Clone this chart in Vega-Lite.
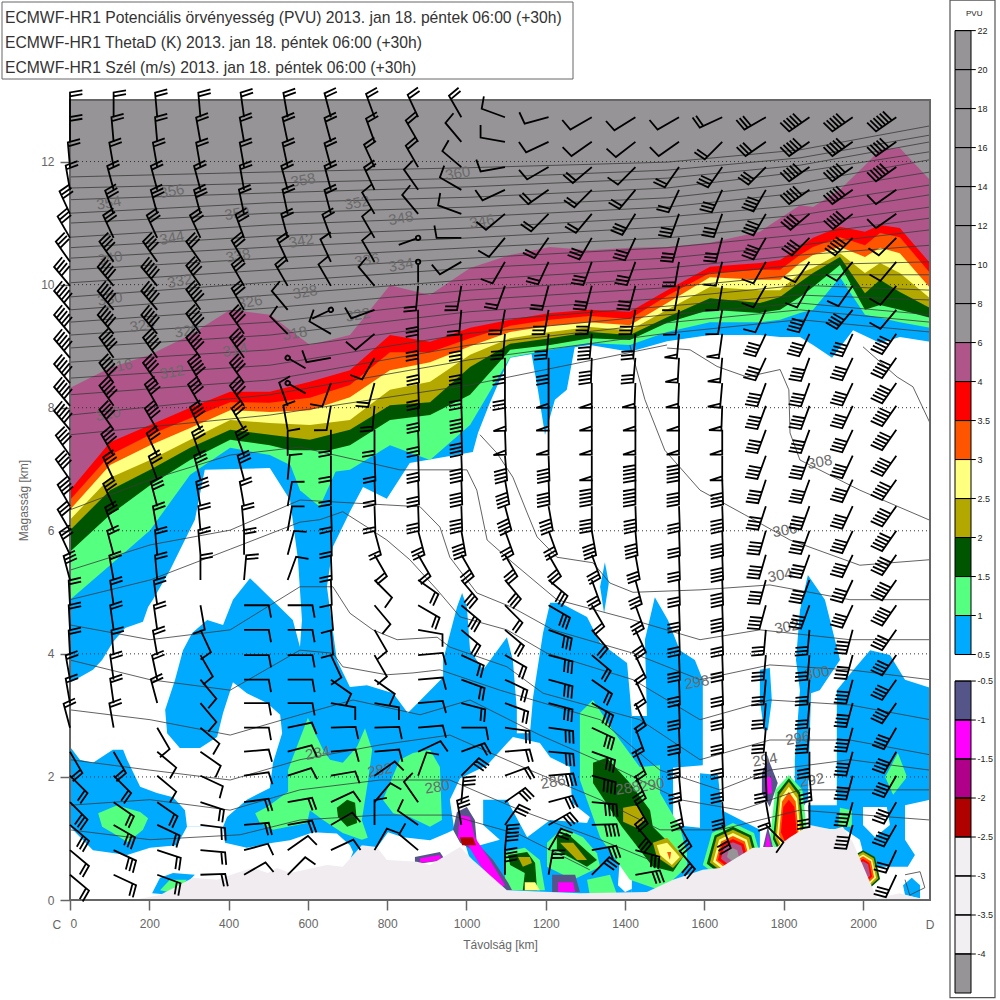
{"$schema":"https://vega.github.io/schema/vega-lite/v6.json","width":1000,"height":1000,"padding":0,"autosize":{"type":"none"},"background":"white","config":{"view":{"stroke":null},"font":"Liberation Sans"},
"datasets":{
"polys":[{"p":1,"b":"bl"},{"p":2,"b":"w"},{"p":3,"b":"w"},{"p":4,"b":"w"},{"p":5,"b":"w"},{"p":6,"b":"w"},{"p":7,"b":"bl"},{"p":8,"b":"w"},{"p":9,"b":"bl"},{"p":10,"b":"bl"},{"p":11,"b":"bl"},{"p":12,"b":"bl"},{"p":13,"b":"bl"},{"p":14,"b":"w"},{"p":15,"b":"bl"},{"p":16,"b":"bl"},{"p":17,"b":"bl"},{"p":18,"b":"bl"},{"p":19,"b":"lg"},{"p":20,"b":"dg"},{"p":21,"b":"ol"},{"p":22,"b":"yl"},{"p":23,"b":"or"},{"p":24,"b":"rd"},{"p":25,"b":"pu"},{"p":26,"b":"g"},{"p":27,"b":"lg"},{"p":28,"b":"lg"},{"p":29,"b":"lg"},{"p":30,"b":"lg"},{"p":31,"b":"dg"},{"p":32,"b":"lg"},{"p":33,"b":"dg"},{"p":34,"b":"ol"},{"p":35,"b":"ol"},{"p":36,"b":"yl"},{"p":37,"b":"or"},{"p":38,"b":"lg"},{"p":39,"b":"dg"},{"p":40,"b":"ol"},{"p":41,"b":"lg"},{"p":42,"b":"dg"},{"p":43,"b":"ol"},{"p":44,"b":"yl"},{"p":45,"b":"lg"},{"p":46,"b":"lg"},{"p":47,"b":"lg"},{"p":48,"b":"lg"},{"p":49,"b":"dg"},{"p":50,"b":"ol"},{"p":51,"b":"yl"},{"p":52,"b":"or"},{"p":53,"b":"rd"},{"p":54,"b":"pu"},{"p":55,"b":"g"},{"p":56,"b":"lg"},{"p":57,"b":"dg"},{"p":58,"b":"ol"},{"p":59,"b":"yl"},{"p":60,"b":"or"},{"p":61,"b":"rd"},{"p":62,"b":"dg"},{"p":63,"b":"ol"},{"p":64,"b":"yl"},{"p":65,"b":"or"},{"p":66,"b":"rd"},{"p":67,"b":"pu"},{"p":68,"b":"n1"},{"p":69,"b":"n2"},{"p":70,"b":"n1"},{"p":71,"b":"n2"},{"p":72,"b":"n1"},{"p":73,"b":"n2"},{"p":74,"b":"n4"},{"p":75,"b":"n1"},{"p":76,"b":"n2"},{"p":77,"b":"n1"},{"p":78,"b":"n2"},{"p":79,"b":"t"},{"p":82,"b":"lg"},{"p":83,"b":"dg"}],
"pts":[{"p":1,"x":0,"y":0},{"p":1,"x":2169,"y":0},{"p":1,"x":2169,"y":13},{"p":1,"x":0,"y":13},
{"p":2,"x":340,"y":6.99},{"p":2,"x":504,"y":7.02},{"p":2,"x":555,"y":6.5},{"p":2,"x":575,"y":5.53},{"p":2,"x":585,"y":4.55},{"p":2,"x":580,"y":4.11},{"p":2,"x":562,"y":4.55},{"p":2,"x":484,"y":5.04},{"p":2,"x":454,"y":5.23},{"p":2,"x":411,"y":4.88},{"p":2,"x":386,"y":4.47},{"p":2,"x":346,"y":4.55},{"p":2,"x":308,"y":4.34},{"p":2,"x":285,"y":4.06},{"p":2,"x":265,"y":3.58},{"p":2,"x":240,"y":3.09},{"p":2,"x":245,"y":2.71},{"p":2,"x":277,"y":2.47},{"p":2,"x":328,"y":2.47},{"p":2,"x":371,"y":2.65},{"p":2,"x":386,"y":3.04},{"p":2,"x":411,"y":3.54},{"p":2,"x":446,"y":3.36},{"p":2,"x":497,"y":3.2},{"p":2,"x":530,"y":3.01},{"p":2,"x":535,"y":2.71},{"p":2,"x":512,"y":2.23},{"p":2,"x":504,"y":1.82},{"p":2,"x":446,"y":1.63},{"p":2,"x":396,"y":1.35},{"p":2,"x":386,"y":1.19},{"p":2,"x":295,"y":1.19},{"p":2,"x":290,"y":1.46},{"p":2,"x":260,"y":1.67},{"p":2,"x":219,"y":1.74},{"p":2,"x":177,"y":1.84},{"p":2,"x":144,"y":2.28},{"p":2,"x":134,"y":2.44},{"p":2,"x":108,"y":2.44},{"p":2,"x":58,"y":2.23},{"p":2,"x":25,"y":2.28},{"p":2,"x":0,"y":2.49},{"p":2,"x":0,"y":3.53},{"p":2,"x":58,"y":3.74},{"p":2,"x":81,"y":3.9},{"p":2,"x":108,"y":4.19},{"p":2,"x":139,"y":4.42},{"p":2,"x":184,"y":4.52},{"p":2,"x":197,"y":4.76},{"p":2,"x":209,"y":4.88},{"p":2,"x":252,"y":5.36},{"p":2,"x":315,"y":6.18},
{"p":3,"x":0,"y":1.19},{"p":3,"x":58,"y":0.81},{"p":3,"x":144,"y":0.73},{"p":3,"x":202,"y":0.85},{"p":3,"x":270,"y":0.89},{"p":3,"x":295,"y":1.19},{"p":3,"x":386,"y":1.19},{"p":3,"x":391,"y":0.93},{"p":3,"x":446,"y":0.85},{"p":3,"x":512,"y":0.93},{"p":3,"x":555,"y":0.97},{"p":3,"x":613,"y":1.1},{"p":3,"x":673,"y":1.08},{"p":3,"x":706,"y":0.89},{"p":3,"x":714,"y":0.78},{"p":3,"x":699,"y":0.54},{"p":3,"x":691,"y":0},{"p":3,"x":0,"y":0},
{"p":4,"x":663,"y":5.74},{"p":4,"x":706,"y":6.31},{"p":4,"x":739,"y":6.71},{"p":4,"x":799,"y":6.52},{"p":4,"x":857,"y":7.1},{"p":4,"x":1016,"y":7.28},{"p":4,"x":1029,"y":7.59},{"p":4,"x":1059,"y":8.08},{"p":4,"x":1084,"y":8.45},{"p":4,"x":1110,"y":8.81},{"p":4,"x":1211,"y":8.92},{"p":4,"x":1311,"y":9.02},{"p":4,"x":1412,"y":8.91},{"p":4,"x":1506,"y":9.08},{"p":4,"x":1614,"y":9.18},{"p":4,"x":1740,"y":9.18},{"p":4,"x":1791,"y":9.15},{"p":4,"x":1841,"y":9.15},{"p":4,"x":1874,"y":9.02},{"p":4,"x":1922,"y":8.81},{"p":4,"x":1975,"y":9.26},{"p":4,"x":2043,"y":9.05},{"p":4,"x":2093,"y":9.15},{"p":4,"x":2169,"y":9.07},{"p":4,"x":2169,"y":0},{"p":4,"x":1417,"y":0},{"p":4,"x":1417,"y":2.99},{"p":4,"x":1405,"y":3.85},{"p":4,"x":1337,"y":4.18},{"p":4,"x":1304,"y":4.6},{"p":4,"x":1236,"y":4.83},{"p":4,"x":1211,"y":4.83},{"p":4,"x":1193,"y":4.34},{"p":4,"x":1168,"y":3.3},{"p":4,"x":1160,"y":2.71},{"p":4,"x":1127,"y":2.71},{"p":4,"x":1127,"y":3.09},{"p":4,"x":1117,"y":3.9},{"p":4,"x":1102,"y":4.27},{"p":4,"x":1042,"y":3.74},{"p":4,"x":1009,"y":4.06},{"p":4,"x":1001,"y":4.76},{"p":4,"x":989,"y":4.99},{"p":4,"x":976,"y":4.76},{"p":4,"x":941,"y":3.9},{"p":4,"x":941,"y":3.62},{"p":4,"x":852,"y":3.04},{"p":4,"x":815,"y":3.36},{"p":4,"x":749,"y":3.49},{"p":4,"x":706,"y":3.46},{"p":4,"x":673,"y":3.9},{"p":4,"x":648,"y":5.09},
{"p":5,"x":774,"y":0.85},{"p":5,"x":802,"y":1.1},{"p":5,"x":840,"y":1.02},{"p":5,"x":908,"y":0.97},{"p":5,"x":951,"y":1.09},{"p":5,"x":984,"y":1.19},{"p":5,"x":1009,"y":0.65},{"p":5,"x":774,"y":0.33},
{"p":6,"x":1117,"y":2.65},{"p":6,"x":1185,"y":2.55},{"p":6,"x":1211,"y":2.32},{"p":6,"x":1261,"y":2.16},{"p":6,"x":1266,"y":1.58},{"p":6,"x":1311,"y":1.35},{"p":6,"x":1304,"y":1.25},{"p":6,"x":1211,"y":1.3},{"p":6,"x":1153,"y":1.02},{"p":6,"x":1102,"y":1.63},{"p":6,"x":1042,"y":1.63},{"p":6,"x":1042,"y":1.22},{"p":6,"x":1084,"y":0.98},{"p":6,"x":1034,"y":0.89},{"p":6,"x":971,"y":1.06},{"p":6,"x":958,"y":1.63},{"p":6,"x":984,"y":1.98},{"p":6,"x":1052,"y":2.19},
{"p":7,"x":207,"y":0.11},{"p":7,"x":227,"y":0.36},{"p":7,"x":260,"y":0.44},{"p":7,"x":315,"y":0.41},{"p":7,"x":295,"y":0.28},{"p":7,"x":260,"y":0.08},
{"p":82,"x":227,"y":0.16},{"p":82,"x":252,"y":0.33},{"p":82,"x":295,"y":0.33},{"p":82,"x":265,"y":0.11},
{"p":83,"x":240,"y":0.08},{"p":83,"x":265,"y":0.21},{"p":83,"x":277,"y":0.24},{"p":83,"x":272,"y":0.11},
{"p":8,"x":1387,"y":0.7},{"p":8,"x":1417,"y":0.65},{"p":8,"x":1437,"y":0.24},{"p":8,"x":1400,"y":0.13},{"p":8,"x":1382,"y":0.24},
{"p":9,"x":1417,"y":2.99},{"p":9,"x":1455,"y":2.99},{"p":9,"x":1450,"y":4.23},{"p":9,"x":1475,"y":4.92},{"p":9,"x":1508,"y":4.55},{"p":9,"x":1538,"y":4.06},{"p":9,"x":1576,"y":3.9},{"p":9,"x":1596,"y":3.58},{"p":9,"x":1596,"y":2.19},{"p":9,"x":1521,"y":2.15},{"p":9,"x":1521,"y":1.22},{"p":9,"x":1596,"y":1.17},{"p":9,"x":1604,"y":0},{"p":9,"x":1417,"y":0},
{"p":10,"x":1589,"y":2.06},{"p":10,"x":1634,"y":2.03},{"p":10,"x":1644,"y":1.46},{"p":10,"x":1740,"y":1.14},{"p":10,"x":1740,"y":0.49},{"p":10,"x":1589,"y":0},
{"p":11,"x":1740,"y":3.74},{"p":11,"x":1765,"y":3.77},{"p":11,"x":1770,"y":3.25},{"p":11,"x":1760,"y":2.76},{"p":11,"x":1750,"y":2.76},{"p":11,"x":1740,"y":3.25},
{"p":12,"x":1861,"y":5.28},{"p":12,"x":1904,"y":4.88},{"p":12,"x":1942,"y":3.9},{"p":12,"x":1891,"y":3.41},{"p":12,"x":1869,"y":3.36},{"p":12,"x":1861,"y":1.63},{"p":12,"x":1828,"y":1.3},{"p":12,"x":1828,"y":2.28},{"p":12,"x":1841,"y":3.41},{"p":12,"x":1831,"y":3.9},{"p":12,"x":1841,"y":4.71},
{"p":13,"x":1934,"y":3.41},{"p":13,"x":1972,"y":3.71},{"p":13,"x":2018,"y":4.06},{"p":13,"x":2068,"y":3.98},{"p":13,"x":2106,"y":3.58},{"p":13,"x":2169,"y":3.45},{"p":13,"x":2169,"y":1.63},{"p":13,"x":2106,"y":1.54},{"p":13,"x":2106,"y":0.98},{"p":13,"x":2131,"y":0.73},{"p":13,"x":2113,"y":0.54},{"p":13,"x":2030,"y":0.54},{"p":13,"x":2018,"y":0.33},{"p":13,"x":1992,"y":0.98},{"p":13,"x":1955,"y":1.14},{"p":13,"x":1934,"y":1.41},
{"p":14,"x":2000,"y":1.51},{"p":14,"x":2060,"y":1.51},{"p":14,"x":2068,"y":1.22},{"p":14,"x":2030,"y":1.02},{"p":14,"x":2000,"y":1.22},
{"p":15,"x":2101,"y":0.24},{"p":15,"x":2123,"y":0.36},{"p":15,"x":2144,"y":0.24},{"p":15,"x":2144,"y":0.03},{"p":15,"x":2106,"y":0.08},
{"p":16,"x":1861,"y":1.54},{"p":16,"x":1942,"y":1.54},{"p":16,"x":1955,"y":1.14},{"p":16,"x":1866,"y":1.17},
{"p":17,"x":1160,"y":9.02},{"p":17,"x":1274,"y":9.02},{"p":17,"x":1253,"y":8.29},{"p":17,"x":1223,"y":8.13},{"p":17,"x":1198,"y":7.56},{"p":17,"x":1180,"y":8.29},
{"p":18,"x":1349,"y":5.49},{"p":18,"x":1359,"y":5.15},{"p":18,"x":1347,"y":4.66},{"p":18,"x":1337,"y":5.09},
{"p":19,"x":0,"y":4.88},{"p":19,"x":101,"y":5.44},{"p":19,"x":202,"y":6.01},{"p":19,"x":303,"y":6.91},{"p":19,"x":404,"y":7.35},{"p":19,"x":504,"y":7.23},{"p":19,"x":605,"y":6.91},{"p":19,"x":706,"y":6.99},{"p":19,"x":807,"y":7.39},{"p":19,"x":908,"y":7.15},{"p":19,"x":1009,"y":7.72},{"p":19,"x":1110,"y":8.82},{"p":19,"x":1211,"y":8.94},{"p":19,"x":1311,"y":9.05},{"p":19,"x":1412,"y":9.02},{"p":19,"x":1506,"y":9.23},{"p":19,"x":1614,"y":9.39},{"p":19,"x":1740,"y":9.39},{"p":19,"x":1791,"y":9.43},{"p":19,"x":1841,"y":9.54},{"p":19,"x":1874,"y":9.59},{"p":19,"x":1942,"y":10.12},{"p":19,"x":2005,"y":9.51},{"p":19,"x":2043,"y":9.46},{"p":19,"x":2093,"y":9.39},{"p":19,"x":2169,"y":9.3},{"p":19,"x":2169,"y":13},{"p":19,"x":0,"y":13},
{"p":20,"x":0,"y":5.66},{"p":20,"x":101,"y":6.26},{"p":20,"x":202,"y":6.74},{"p":20,"x":303,"y":7.15},{"p":20,"x":404,"y":7.48},{"p":20,"x":504,"y":7.39},{"p":20,"x":605,"y":7.23},{"p":20,"x":706,"y":7.39},{"p":20,"x":807,"y":7.8},{"p":20,"x":908,"y":7.88},{"p":20,"x":1009,"y":8.21},{"p":20,"x":1110,"y":8.94},{"p":20,"x":1211,"y":9.02},{"p":20,"x":1311,"y":9.13},{"p":20,"x":1412,"y":9.1},{"p":20,"x":1506,"y":9.38},{"p":20,"x":1614,"y":9.59},{"p":20,"x":1740,"y":9.54},{"p":20,"x":1791,"y":9.59},{"p":20,"x":1841,"y":9.8},{"p":20,"x":1874,"y":9.96},{"p":20,"x":1942,"y":10.32},{"p":20,"x":2005,"y":9.59},{"p":20,"x":2043,"y":9.67},{"p":20,"x":2093,"y":9.59},{"p":20,"x":2169,"y":9.46},{"p":20,"x":2169,"y":13},{"p":20,"x":0,"y":13},
{"p":21,"x":0,"y":6.01},{"p":21,"x":101,"y":6.66},{"p":21,"x":202,"y":6.99},{"p":21,"x":303,"y":7.35},{"p":21,"x":404,"y":7.64},{"p":21,"x":504,"y":7.56},{"p":21,"x":605,"y":7.48},{"p":21,"x":706,"y":7.64},{"p":21,"x":807,"y":8.04},{"p":21,"x":908,"y":8.09},{"p":21,"x":1009,"y":8.66},{"p":21,"x":1110,"y":9.04},{"p":21,"x":1211,"y":9.13},{"p":21,"x":1311,"y":9.23},{"p":21,"x":1412,"y":9.18},{"p":21,"x":1506,"y":9.47},{"p":21,"x":1614,"y":9.78},{"p":21,"x":1740,"y":9.7},{"p":21,"x":1791,"y":9.8},{"p":21,"x":1841,"y":10.04},{"p":21,"x":1874,"y":10.19},{"p":21,"x":1942,"y":10.45},{"p":21,"x":2005,"y":9.86},{"p":21,"x":2043,"y":10.08},{"p":21,"x":2093,"y":9.88},{"p":21,"x":2169,"y":9.62},{"p":21,"x":2169,"y":13},{"p":21,"x":0,"y":13},
{"p":22,"x":0,"y":6.18},{"p":22,"x":101,"y":6.86},{"p":22,"x":202,"y":7.15},{"p":22,"x":303,"y":7.48},{"p":22,"x":404,"y":7.8},{"p":22,"x":504,"y":7.75},{"p":22,"x":605,"y":7.72},{"p":22,"x":706,"y":7.8},{"p":22,"x":807,"y":8.29},{"p":22,"x":908,"y":8.42},{"p":22,"x":1009,"y":8.86},{"p":22,"x":1110,"y":9.13},{"p":22,"x":1211,"y":9.23},{"p":22,"x":1311,"y":9.31},{"p":22,"x":1412,"y":9.26},{"p":22,"x":1506,"y":9.59},{"p":22,"x":1614,"y":9.96},{"p":22,"x":1740,"y":9.91},{"p":22,"x":1791,"y":9.91},{"p":22,"x":1841,"y":10.19},{"p":22,"x":1874,"y":10.27},{"p":22,"x":1942,"y":10.51},{"p":22,"x":2005,"y":10.19},{"p":22,"x":2043,"y":10.35},{"p":22,"x":2093,"y":10.19},{"p":22,"x":2169,"y":9.78},{"p":22,"x":2169,"y":13},{"p":22,"x":0,"y":13},
{"p":23,"x":0,"y":6.34},{"p":23,"x":101,"y":7.07},{"p":23,"x":202,"y":7.39},{"p":23,"x":303,"y":7.67},{"p":23,"x":404,"y":7.96},{"p":23,"x":504,"y":7.93},{"p":23,"x":605,"y":7.96},{"p":23,"x":706,"y":8.17},{"p":23,"x":807,"y":8.61},{"p":23,"x":908,"y":8.74},{"p":23,"x":1009,"y":9},{"p":23,"x":1110,"y":9.23},{"p":23,"x":1211,"y":9.33},{"p":23,"x":1311,"y":9.39},{"p":23,"x":1412,"y":9.34},{"p":23,"x":1506,"y":9.7},{"p":23,"x":1614,"y":10.12},{"p":23,"x":1740,"y":10.08},{"p":23,"x":1791,"y":10.08},{"p":23,"x":1841,"y":10.35},{"p":23,"x":1874,"y":10.48},{"p":23,"x":1942,"y":10.61},{"p":23,"x":2005,"y":10.45},{"p":23,"x":2043,"y":10.6},{"p":23,"x":2093,"y":10.51},{"p":23,"x":2169,"y":9.95},{"p":23,"x":2169,"y":13},{"p":23,"x":0,"y":13},
{"p":24,"x":0,"y":6.5},{"p":24,"x":101,"y":7.23},{"p":24,"x":202,"y":7.56},{"p":24,"x":303,"y":7.83},{"p":24,"x":404,"y":8.09},{"p":24,"x":504,"y":8.08},{"p":24,"x":605,"y":8.16},{"p":24,"x":706,"y":8.37},{"p":24,"x":807,"y":8.9},{"p":24,"x":908,"y":8.9},{"p":24,"x":1009,"y":9.13},{"p":24,"x":1110,"y":9.33},{"p":24,"x":1211,"y":9.43},{"p":24,"x":1311,"y":9.49},{"p":24,"x":1412,"y":9.44},{"p":24,"x":1506,"y":9.82},{"p":24,"x":1614,"y":10.19},{"p":24,"x":1740,"y":10.24},{"p":24,"x":1791,"y":10.24},{"p":24,"x":1841,"y":10.48},{"p":24,"x":1874,"y":10.61},{"p":24,"x":1942,"y":10.77},{"p":24,"x":2005,"y":10.64},{"p":24,"x":2043,"y":10.84},{"p":24,"x":2093,"y":10.77},{"p":24,"x":2169,"y":10.19},{"p":24,"x":2169,"y":13},{"p":24,"x":0,"y":13},
{"p":25,"x":0,"y":6.66},{"p":25,"x":101,"y":7.44},{"p":25,"x":202,"y":7.72},{"p":25,"x":303,"y":8},{"p":25,"x":404,"y":8.26},{"p":25,"x":504,"y":8.26},{"p":25,"x":605,"y":8.42},{"p":25,"x":706,"y":8.61},{"p":25,"x":807,"y":9.18},{"p":25,"x":908,"y":9.07},{"p":25,"x":1009,"y":9.3},{"p":25,"x":1110,"y":9.43},{"p":25,"x":1211,"y":9.54},{"p":25,"x":1311,"y":9.59},{"p":25,"x":1412,"y":9.56},{"p":25,"x":1506,"y":9.91},{"p":25,"x":1614,"y":10.29},{"p":25,"x":1740,"y":10.35},{"p":25,"x":1791,"y":10.4},{"p":25,"x":1841,"y":10.61},{"p":25,"x":1874,"y":10.76},{"p":25,"x":1942,"y":10.94},{"p":25,"x":2005,"y":10.86},{"p":25,"x":2043,"y":10.97},{"p":25,"x":2093,"y":10.92},{"p":25,"x":2169,"y":10.35},{"p":25,"x":2169,"y":13},{"p":25,"x":0,"y":13},
{"p":26,"x":0,"y":8.32},{"p":26,"x":101,"y":8.65},{"p":26,"x":202,"y":8.86},{"p":26,"x":303,"y":9.18},{"p":26,"x":404,"y":9.59},{"p":26,"x":504,"y":9.51},{"p":26,"x":605,"y":9.02},{"p":26,"x":706,"y":9.18},{"p":26,"x":807,"y":9.99},{"p":26,"x":908,"y":9.83},{"p":26,"x":1009,"y":10.27},{"p":26,"x":1110,"y":10.48},{"p":26,"x":1211,"y":10.61},{"p":26,"x":1311,"y":10.56},{"p":26,"x":1412,"y":10.6},{"p":26,"x":1506,"y":10.61},{"p":26,"x":1614,"y":10.68},{"p":26,"x":1740,"y":10.86},{"p":26,"x":1791,"y":11.08},{"p":26,"x":1841,"y":11.29},{"p":26,"x":1874,"y":11.26},{"p":26,"x":1942,"y":11.54},{"p":26,"x":2005,"y":11.94},{"p":26,"x":2043,"y":12.19},{"p":26,"x":2093,"y":12.22},{"p":26,"x":2169,"y":11.7},{"p":26,"x":2169,"y":13},{"p":26,"x":0,"y":13},
{"p":27,"x":542,"y":7.31},{"p":27,"x":694,"y":7.31},{"p":27,"x":630,"y":6.39},{"p":27,"x":580,"y":6.66},
{"p":28,"x":71,"y":1.41},{"p":28,"x":119,"y":1.54},{"p":28,"x":177,"y":1.43},{"p":28,"x":197,"y":1.33},{"p":28,"x":184,"y":1.14},{"p":28,"x":146,"y":0.94},{"p":28,"x":108,"y":1.09},{"p":28,"x":81,"y":1.19},
{"p":29,"x":467,"y":1.41},{"p":29,"x":497,"y":1.51},{"p":29,"x":550,"y":1.76},{"p":29,"x":550,"y":2.11},{"p":29,"x":572,"y":2.49},{"p":29,"x":600,"y":2.96},{"p":29,"x":638,"y":2.44},{"p":29,"x":656,"y":2.28},{"p":29,"x":688,"y":2.23},{"p":29,"x":724,"y":2.49},{"p":29,"x":744,"y":2.79},{"p":29,"x":762,"y":2.44},{"p":29,"x":752,"y":1.95},{"p":29,"x":736,"y":1.3},{"p":29,"x":751,"y":1.01},{"p":29,"x":736,"y":0.98},{"p":29,"x":688,"y":1.09},{"p":29,"x":638,"y":1.3},{"p":29,"x":605,"y":1.46},{"p":29,"x":598,"y":1.25},{"p":29,"x":512,"y":1.14},{"p":29,"x":479,"y":1.25},
{"p":30,"x":807,"y":1.9},{"p":30,"x":832,"y":2.28},{"p":30,"x":865,"y":2.39},{"p":30,"x":908,"y":2.44},{"p":30,"x":933,"y":2.16},{"p":30,"x":938,"y":1.3},{"p":30,"x":908,"y":1.19},{"p":30,"x":857,"y":1.35},{"p":30,"x":815,"y":1.41},{"p":30,"x":789,"y":1.63},
{"p":31,"x":673,"y":1.5},{"p":31,"x":699,"y":1.63},{"p":31,"x":719,"y":1.58},{"p":31,"x":724,"y":1.25},{"p":31,"x":699,"y":1.19},{"p":31,"x":676,"y":1.35},
{"p":32,"x":1286,"y":3.04},{"p":32,"x":1319,"y":3.25},{"p":32,"x":1369,"y":2.76},{"p":32,"x":1437,"y":2.16},{"p":32,"x":1488,"y":2.19},{"p":32,"x":1488,"y":1.74},{"p":32,"x":1538,"y":1.19},{"p":32,"x":1556,"y":0.76},{"p":32,"x":1556,"y":0.54},{"p":32,"x":1521,"y":0.33},{"p":32,"x":1538,"y":0.05},{"p":32,"x":1412,"y":0.33},{"p":32,"x":1337,"y":1.02},{"p":32,"x":1286,"y":1.95},
{"p":33,"x":1319,"y":2.23},{"p":33,"x":1354,"y":2.31},{"p":33,"x":1412,"y":1.9},{"p":33,"x":1463,"y":1.46},{"p":33,"x":1470,"y":1.19},{"p":33,"x":1546,"y":0.7},{"p":33,"x":1521,"y":0.46},{"p":33,"x":1470,"y":0.54},{"p":33,"x":1392,"y":1.19},{"p":33,"x":1319,"y":1.9},
{"p":34,"x":1395,"y":1.5},{"p":34,"x":1430,"y":1.54},{"p":34,"x":1450,"y":1.3},{"p":34,"x":1430,"y":1.17},{"p":34,"x":1395,"y":1.27},
{"p":35,"x":1470,"y":0.93},{"p":35,"x":1506,"y":1.01},{"p":35,"x":1546,"y":0.7},{"p":35,"x":1521,"y":0.52},{"p":35,"x":1480,"y":0.7},
{"p":36,"x":1480,"y":0.89},{"p":36,"x":1506,"y":0.93},{"p":36,"x":1538,"y":0.7},{"p":36,"x":1518,"y":0.57},{"p":36,"x":1488,"y":0.73},
{"p":37,"x":1506,"y":0.78},{"p":37,"x":1516,"y":0.78},{"p":37,"x":1513,"y":0.65},
{"p":38,"x":1203,"y":0.93},{"p":38,"x":1243,"y":1.17},{"p":38,"x":1294,"y":1.02},{"p":38,"x":1329,"y":0.76},{"p":38,"x":1337,"y":0.54},{"p":38,"x":1269,"y":0.33},{"p":38,"x":1203,"y":0.54},
{"p":39,"x":1228,"y":1.02},{"p":39,"x":1253,"y":1.09},{"p":39,"x":1329,"y":0.65},{"p":39,"x":1304,"y":0.54},{"p":39,"x":1228,"y":0.81},
{"p":40,"x":1236,"y":0.93},{"p":40,"x":1269,"y":0.93},{"p":40,"x":1304,"y":0.65},{"p":40,"x":1279,"y":0.65},
{"p":41,"x":1097,"y":0.78},{"p":41,"x":1147,"y":0.85},{"p":41,"x":1185,"y":0.65},{"p":41,"x":1198,"y":0.16},{"p":41,"x":1097,"y":0.16},
{"p":42,"x":1105,"y":0.73},{"p":42,"x":1153,"y":0.78},{"p":42,"x":1173,"y":0.6},{"p":42,"x":1178,"y":0.16},{"p":42,"x":1142,"y":0.16},{"p":42,"x":1147,"y":0.44},{"p":42,"x":1110,"y":0.57},
{"p":43,"x":1130,"y":0.7},{"p":43,"x":1160,"y":0.7},{"p":43,"x":1165,"y":0.6},{"p":43,"x":1142,"y":0.54},
{"p":44,"x":1147,"y":0.29},{"p":44,"x":1173,"y":0.29},{"p":44,"x":1185,"y":0.16},{"p":44,"x":1147,"y":0.16},
{"p":45,"x":1304,"y":0.33},{"p":45,"x":1362,"y":0.41},{"p":45,"x":1380,"y":0.08},{"p":45,"x":1311,"y":0.08},
{"p":46,"x":2088,"y":2.39},{"p":46,"x":2056,"y":2},{"p":46,"x":2076,"y":1.71},{"p":46,"x":2111,"y":2},
{"p":47,"x":1942,"y":1.5},{"p":47,"x":1972,"y":1.46},{"p":47,"x":1972,"y":1.19},{"p":47,"x":1937,"y":1.19},
{"p":48,"x":1596,"y":0.57},{"p":48,"x":1619,"y":1.09},{"p":48,"x":1672,"y":1.25},{"p":48,"x":1725,"y":1.09},{"p":48,"x":1748,"y":0.57},{"p":48,"x":1672,"y":0.21},
{"p":49,"x":1606,"y":0.59},{"p":49,"x":1626,"y":1.05},{"p":49,"x":1672,"y":1.19},{"p":49,"x":1718,"y":1.05},{"p":49,"x":1738,"y":0.59},{"p":49,"x":1672,"y":0.27},
{"p":50,"x":1614,"y":0.61},{"p":50,"x":1631,"y":1.02},{"p":50,"x":1672,"y":1.14},{"p":50,"x":1713,"y":1.02},{"p":50,"x":1730,"y":0.61},{"p":50,"x":1672,"y":0.32},
{"p":51,"x":1622,"y":0.62},{"p":51,"x":1637,"y":0.98},{"p":51,"x":1672,"y":1.09},{"p":51,"x":1707,"y":0.98},{"p":51,"x":1722,"y":0.62},{"p":51,"x":1672,"y":0.37},
{"p":52,"x":1629,"y":0.64},{"p":52,"x":1642,"y":0.95},{"p":52,"x":1672,"y":1.04},{"p":52,"x":1702,"y":0.95},{"p":52,"x":1715,"y":0.64},{"p":52,"x":1672,"y":0.42},
{"p":53,"x":1634,"y":0.65},{"p":53,"x":1645,"y":0.91},{"p":53,"x":1672,"y":0.99},{"p":53,"x":1699,"y":0.91},{"p":53,"x":1710,"y":0.65},{"p":53,"x":1672,"y":0.47},
{"p":54,"x":1642,"y":0.67},{"p":54,"x":1651,"y":0.88},{"p":54,"x":1672,"y":0.94},{"p":54,"x":1693,"y":0.88},{"p":54,"x":1702,"y":0.67},{"p":54,"x":1672,"y":0.52},
{"p":55,"x":1657,"y":0.7},{"p":55,"x":1661,"y":0.81},{"p":55,"x":1672,"y":0.84},{"p":55,"x":1683,"y":0.81},{"p":55,"x":1687,"y":0.7},{"p":55,"x":1672,"y":0.62},
{"p":56,"x":1765,"y":0.98},{"p":56,"x":1779,"y":1.79},{"p":56,"x":1813,"y":2.03},{"p":56,"x":1847,"y":1.79},{"p":56,"x":1861,"y":0.98},{"p":56,"x":1813,"y":0.41},
{"p":57,"x":1773,"y":0.99},{"p":57,"x":1785,"y":1.75},{"p":57,"x":1813,"y":1.98},{"p":57,"x":1841,"y":1.75},{"p":57,"x":1853,"y":0.99},{"p":57,"x":1813,"y":0.46},
{"p":58,"x":1778,"y":1.01},{"p":58,"x":1789,"y":1.71},{"p":58,"x":1813,"y":1.92},{"p":58,"x":1837,"y":1.71},{"p":58,"x":1848,"y":1.01},{"p":58,"x":1813,"y":0.52},
{"p":59,"x":1783,"y":1.03},{"p":59,"x":1792,"y":1.65},{"p":59,"x":1813,"y":1.84},{"p":59,"x":1834,"y":1.65},{"p":59,"x":1843,"y":1.03},{"p":59,"x":1813,"y":0.6},
{"p":60,"x":1788,"y":1.06},{"p":60,"x":1796,"y":1.6},{"p":60,"x":1813,"y":1.76},{"p":60,"x":1830,"y":1.6},{"p":60,"x":1838,"y":1.06},{"p":60,"x":1813,"y":0.68},
{"p":61,"x":1793,"y":1.1},{"p":61,"x":1799,"y":1.51},{"p":61,"x":1813,"y":1.63},{"p":61,"x":1827,"y":1.51},{"p":61,"x":1833,"y":1.1},{"p":61,"x":1813,"y":0.81},
{"p":62,"x":1957,"y":0.34},{"p":62,"x":1970,"y":0.7},{"p":62,"x":2000,"y":0.81},{"p":62,"x":2030,"y":0.7},{"p":62,"x":2043,"y":0.34},{"p":62,"x":2000,"y":0.09},
{"p":63,"x":1962,"y":0.35},{"p":63,"x":1973,"y":0.68},{"p":63,"x":2000,"y":0.78},{"p":63,"x":2027,"y":0.68},{"p":63,"x":2038,"y":0.35},{"p":63,"x":2000,"y":0.12},
{"p":64,"x":1967,"y":0.36},{"p":64,"x":1977,"y":0.65},{"p":64,"x":2000,"y":0.74},{"p":64,"x":2023,"y":0.65},{"p":64,"x":2033,"y":0.36},{"p":64,"x":2000,"y":0.16},
{"p":65,"x":1972,"y":0.37},{"p":65,"x":1980,"y":0.63},{"p":65,"x":2000,"y":0.71},{"p":65,"x":2020,"y":0.63},{"p":65,"x":2028,"y":0.37},{"p":65,"x":2000,"y":0.19},
{"p":66,"x":1977,"y":0.38},{"p":66,"x":1984,"y":0.6},{"p":66,"x":2000,"y":0.67},{"p":66,"x":2016,"y":0.6},{"p":66,"x":2023,"y":0.38},{"p":66,"x":2000,"y":0.23},
{"p":67,"x":1982,"y":0.4},{"p":67,"x":1987,"y":0.58},{"p":67,"x":2000,"y":0.63},{"p":67,"x":2013,"y":0.58},{"p":67,"x":2018,"y":0.4},{"p":67,"x":2000,"y":0.27},
{"p":68,"x":1760,"y":2.31},{"p":68,"x":1785,"y":1.9},{"p":68,"x":1765,"y":1.51},{"p":68,"x":1745,"y":1.74},{"p":68,"x":1745,"y":2.06},
{"p":69,"x":1755,"y":2},{"p":69,"x":1768,"y":2},{"p":69,"x":1770,"y":1.74},{"p":69,"x":1753,"y":1.71},
{"p":70,"x":1760,"y":1.19},{"p":70,"x":1773,"y":0.86},{"p":70,"x":1748,"y":0.86},
{"p":71,"x":1760,"y":1.1},{"p":71,"x":1768,"y":0.86},{"p":71,"x":1753,"y":0.86},
{"p":72,"x":976,"y":1.43},{"p":72,"x":1001,"y":1.51},{"p":72,"x":1021,"y":1.3},{"p":72,"x":1026,"y":0.93},{"p":72,"x":1067,"y":0.65},{"p":72,"x":1105,"y":0.28},{"p":72,"x":1115,"y":0.16},{"p":72,"x":1092,"y":0.16},{"p":72,"x":1042,"y":0.54},{"p":72,"x":1016,"y":0.81},{"p":72,"x":984,"y":0.93},{"p":72,"x":966,"y":1.14},
{"p":73,"x":984,"y":1.38},{"p":73,"x":1009,"y":1.35},{"p":73,"x":1021,"y":1.02},{"p":73,"x":1059,"y":0.65},{"p":73,"x":1097,"y":0.24},{"p":73,"x":1084,"y":0.2},{"p":73,"x":1034,"y":0.57},{"p":73,"x":1004,"y":0.89},{"p":73,"x":978,"y":1.01},
{"p":74,"x":984,"y":1.02},{"p":74,"x":1016,"y":1.02},{"p":74,"x":1024,"y":0.89},{"p":74,"x":989,"y":0.89},
{"p":75,"x":1216,"y":0.41},{"p":75,"x":1274,"y":0.41},{"p":75,"x":1286,"y":0.13},{"p":75,"x":1216,"y":0.13},
{"p":76,"x":1231,"y":0.29},{"p":76,"x":1269,"y":0.29},{"p":76,"x":1274,"y":0.13},{"p":76,"x":1231,"y":0.13},
{"p":77,"x":870,"y":0.7},{"p":77,"x":933,"y":0.78},{"p":77,"x":946,"y":0.65},{"p":77,"x":870,"y":0.58},
{"p":78,"x":883,"y":0.68},{"p":78,"x":933,"y":0.73},{"p":78,"x":938,"y":0.65},{"p":78,"x":883,"y":0.6},
{"p":79,"x":159,"y":0},{"p":79,"x":227,"y":0.08},{"p":79,"x":310,"y":0.36},{"p":79,"x":371,"y":0.33},{"p":79,"x":429,"y":0.46},{"p":79,"x":462,"y":0.52},{"p":79,"x":499,"y":0.44},{"p":79,"x":522,"y":0.52},{"p":79,"x":555,"y":0.44},{"p":79,"x":648,"y":0.57},{"p":79,"x":688,"y":0.54},{"p":79,"x":736,"y":0.89},{"p":79,"x":774,"y":0.86},{"p":79,"x":799,"y":0.65},{"p":79,"x":875,"y":0.62},{"p":79,"x":908,"y":0.57},{"p":79,"x":984,"y":0.86},{"p":79,"x":1016,"y":0.65},{"p":79,"x":1102,"y":0.16},{"p":79,"x":1286,"y":0.11},{"p":79,"x":1455,"y":0.13},{"p":79,"x":1521,"y":0.33},{"p":79,"x":1596,"y":0.49},{"p":79,"x":1639,"y":0.52},{"p":79,"x":1722,"y":0.85},{"p":79,"x":1783,"y":0.86},{"p":79,"x":1816,"y":1.02},{"p":79,"x":1866,"y":1.22},{"p":79,"x":1924,"y":1.14},{"p":79,"x":1949,"y":1.19},{"p":79,"x":1975,"y":0.93},{"p":79,"x":2035,"y":0.03},{"p":79,"x":2093,"y":0.11},{"p":79,"x":2144,"y":0.02},{"p":79,"x":2169,"y":0}],
"cont":[{"l":1,"x":0,"y":11.75},{"l":1,"x":504,"y":11.83},{"l":1,"x":1009,"y":11.9},{"l":1,"x":1506,"y":11.99},{"l":1,"x":1841,"y":12.19},{"l":1,"x":2169,"y":12.58},
{"l":2,"x":0,"y":11.57},{"l":2,"x":504,"y":11.65},{"l":2,"x":1009,"y":11.73},{"l":2,"x":1506,"y":11.86},{"l":2,"x":1841,"y":12.06},{"l":2,"x":2169,"y":12.43},
{"l":3,"x":0,"y":11.38},{"l":3,"x":504,"y":11.49},{"l":3,"x":1009,"y":11.59},{"l":3,"x":1506,"y":11.73},{"l":3,"x":1841,"y":11.94},{"l":3,"x":2169,"y":12.32},
{"l":4,"x":0,"y":11.16},{"l":4,"x":504,"y":11.33},{"l":4,"x":1009,"y":11.42},{"l":4,"x":1506,"y":11.57},{"l":4,"x":1841,"y":11.83},{"l":4,"x":2169,"y":12.16},
{"l":5,"x":0,"y":11},{"l":5,"x":504,"y":11.16},{"l":5,"x":1009,"y":11.26},{"l":5,"x":1506,"y":11.41},{"l":5,"x":1841,"y":11.65},{"l":5,"x":2169,"y":12.03},
{"l":6,"x":0,"y":10.77},{"l":6,"x":504,"y":10.97},{"l":6,"x":1009,"y":11.1},{"l":6,"x":1506,"y":11.26},{"l":6,"x":1841,"y":11.49},{"l":6,"x":2169,"y":11.83},
{"l":7,"x":0,"y":10.6},{"l":7,"x":504,"y":10.79},{"l":7,"x":1009,"y":10.92},{"l":7,"x":1506,"y":11.1},{"l":7,"x":1841,"y":11.29},{"l":7,"x":2169,"y":11.62},
{"l":8,"x":0,"y":10.43},{"l":8,"x":504,"y":10.61},{"l":8,"x":1009,"y":10.76},{"l":8,"x":1506,"y":10.94},{"l":8,"x":1841,"y":11.13},{"l":8,"x":2169,"y":11.46},
{"l":9,"x":0,"y":10.24},{"l":9,"x":504,"y":10.43},{"l":9,"x":1009,"y":10.6},{"l":9,"x":1506,"y":10.76},{"l":9,"x":1841,"y":10.97},{"l":9,"x":2169,"y":11.26},
{"l":10,"x":0,"y":10.03},{"l":10,"x":504,"y":10.24},{"l":10,"x":1009,"y":10.43},{"l":10,"x":1506,"y":10.6},{"l":10,"x":1841,"y":10.81},{"l":10,"x":2169,"y":11.08},
{"l":11,"x":0,"y":9.8},{"l":11,"x":504,"y":10.04},{"l":11,"x":1009,"y":10.27},{"l":11,"x":1506,"y":10.43},{"l":11,"x":1841,"y":10.64},{"l":11,"x":2169,"y":10.89},
{"l":12,"x":0,"y":9.59},{"l":12,"x":504,"y":9.83},{"l":12,"x":1009,"y":10.08},{"l":12,"x":1506,"y":10.27},{"l":12,"x":1841,"y":10.48},{"l":12,"x":2169,"y":10.64},
{"l":13,"x":0,"y":9.39},{"l":13,"x":504,"y":9.62},{"l":13,"x":1009,"y":9.91},{"l":13,"x":1506,"y":10.11},{"l":13,"x":1841,"y":10.32},{"l":13,"x":2169,"y":10.37},
{"l":14,"x":0,"y":9.18},{"l":14,"x":504,"y":9.39},{"l":14,"x":1009,"y":9.75},{"l":14,"x":1506,"y":9.95},{"l":14,"x":1841,"y":10.16},{"l":14,"x":2169,"y":10.16},
{"l":15,"x":0,"y":8.97},{"l":15,"x":504,"y":9.18},{"l":15,"x":1009,"y":9.56},{"l":15,"x":1506,"y":9.78},{"l":15,"x":1841,"y":9.99},{"l":15,"x":2169,"y":9.91},
{"l":16,"x":0,"y":8.74},{"l":16,"x":504,"y":8.94},{"l":16,"x":1009,"y":9.39},{"l":16,"x":1506,"y":9.65},{"l":16,"x":1841,"y":9.83},{"l":16,"x":2169,"y":9.75},
{"l":17,"x":0,"y":8.48},{"l":17,"x":504,"y":8.69},{"l":17,"x":1009,"y":9.21},{"l":17,"x":1506,"y":9.51},{"l":17,"x":1841,"y":9.7},{"l":17,"x":2169,"y":9.51},
{"l":18,"x":0,"y":8.21},{"l":18,"x":504,"y":8.45},{"l":18,"x":1009,"y":9.02},{"l":18,"x":1506,"y":9.38},{"l":18,"x":1841,"y":9.59},{"l":18,"x":2169,"y":9.39},
{"l":19,"x":0,"y":7.88},{"l":19,"x":504,"y":8.21},{"l":19,"x":1009,"y":8.78},{"l":19,"x":1506,"y":9.21},{"l":19,"x":1841,"y":9.43},{"l":19,"x":2169,"y":9.23},
{"l":20,"x":0,"y":7.56},{"l":20,"x":504,"y":7.88},{"l":20,"x":1009,"y":8.37},{"l":20,"x":1506,"y":9.02},
{"l":21,"x":1506,"y":8.97},{"l":21,"x":1564,"y":8.94},{"l":21,"x":1632,"y":8.67},{"l":21,"x":1707,"y":8.5},{"l":21,"x":1791,"y":8.62},{"l":21,"x":1813,"y":8.29},{"l":21,"x":1816,"y":7.59},{"l":21,"x":1841,"y":7.15},{"l":21,"x":1992,"y":6.66},{"l":21,"x":2169,"y":6.17},
{"l":22,"x":2000,"y":8.99},{"l":22,"x":2086,"y":8.5},{"l":22,"x":2126,"y":8.34},{"l":22,"x":2169,"y":7.75},
{"l":23,"x":1412,"y":9.02},{"l":23,"x":1450,"y":8.13},{"l":23,"x":1500,"y":7.31},{"l":23,"x":1589,"y":6.66},{"l":23,"x":1702,"y":6.26},{"l":23,"x":1816,"y":5.85},{"l":23,"x":1992,"y":5.44},{"l":23,"x":2169,"y":5.53},
{"l":24,"x":0,"y":6.34},{"l":24,"x":202,"y":6.83},{"l":24,"x":404,"y":7.23},{"l":24,"x":580,"y":7.36},{"l":24,"x":832,"y":6.99},{"l":24,"x":1001,"y":6.99},{"l":24,"x":1026,"y":6.66},{"l":24,"x":1052,"y":5.85},{"l":24,"x":1117,"y":5.48},{"l":24,"x":1228,"y":4.88},{"l":24,"x":1420,"y":4.55},{"l":24,"x":1589,"y":4.23},{"l":24,"x":1740,"y":4.39},{"l":24,"x":1967,"y":4.23},{"l":24,"x":2169,"y":4.23},
{"l":25,"x":1034,"y":7.56},{"l":25,"x":1077,"y":7.26},{"l":25,"x":1117,"y":6.87},{"l":25,"x":1153,"y":6.29},{"l":25,"x":1178,"y":5.9},{"l":25,"x":1228,"y":5.57},{"l":25,"x":1319,"y":5.48},{"l":25,"x":1362,"y":5.15},{"l":25,"x":1420,"y":5},{"l":25,"x":1589,"y":5.04},{"l":25,"x":1765,"y":5.12},{"l":25,"x":1967,"y":4.88},{"l":25,"x":2169,"y":4.88},
{"l":26,"x":0,"y":5.36},{"l":26,"x":202,"y":5.77},{"l":26,"x":404,"y":6.01},{"l":26,"x":580,"y":6.5},{"l":26,"x":799,"y":6.42},{"l":26,"x":883,"y":6.39},{"l":26,"x":933,"y":6.06},{"l":26,"x":958,"y":5.57},{"l":26,"x":1026,"y":4.99},{"l":26,"x":1117,"y":4.75},{"l":26,"x":1218,"y":4.39},{"l":26,"x":1420,"y":4.01},{"l":26,"x":1589,"y":3.58},{"l":26,"x":1765,"y":3.82},{"l":26,"x":1967,"y":3.74},{"l":26,"x":2169,"y":3.58},
{"l":27,"x":0,"y":4.88},{"l":27,"x":202,"y":5.2},{"l":27,"x":404,"y":5.7},{"l":27,"x":580,"y":6.14},{"l":27,"x":630,"y":6.18},{"l":27,"x":688,"y":6.31},{"l":27,"x":749,"y":6.06},{"l":27,"x":799,"y":5.85},{"l":27,"x":857,"y":5.53},{"l":27,"x":926,"y":5.04},{"l":27,"x":984,"y":4.6},{"l":27,"x":1102,"y":4.39},{"l":27,"x":1203,"y":4.01},{"l":27,"x":1420,"y":3.58},{"l":27,"x":1589,"y":2.93},{"l":27,"x":1765,"y":3.25},{"l":27,"x":1967,"y":3.17},{"l":27,"x":2169,"y":2.93},
{"l":28,"x":0,"y":4.47},{"l":28,"x":202,"y":4.23},{"l":28,"x":404,"y":4.39},{"l":28,"x":580,"y":5.09},{"l":28,"x":663,"y":5.09},{"l":28,"x":706,"y":4.66},{"l":28,"x":764,"y":4.39},{"l":28,"x":825,"y":4.23},{"l":28,"x":926,"y":4.27},{"l":28,"x":958,"y":4.11},{"l":28,"x":1102,"y":3.79},{"l":28,"x":1193,"y":3.36},{"l":28,"x":1437,"y":2.93},{"l":28,"x":1589,"y":2.28},{"l":28,"x":1765,"y":2.6},{"l":28,"x":1967,"y":2.6},{"l":28,"x":2169,"y":2.36},
{"l":29,"x":0,"y":3.9},{"l":29,"x":202,"y":3.58},{"l":29,"x":404,"y":3.41},{"l":29,"x":580,"y":4.06},{"l":29,"x":663,"y":4.01},{"l":29,"x":688,"y":3.79},{"l":29,"x":799,"y":3.66},{"l":29,"x":865,"y":3.69},{"l":29,"x":933,"y":3.74},{"l":29,"x":1084,"y":3.41},{"l":29,"x":1168,"y":3.25},{"l":29,"x":1337,"y":2.93},{"l":29,"x":1488,"y":2.11},{"l":29,"x":1639,"y":1.79},{"l":29,"x":1765,"y":2.11},{"l":29,"x":1967,"y":2.28},{"l":29,"x":2169,"y":2.11},
{"l":30,"x":0,"y":3.09},{"l":30,"x":202,"y":2.93},{"l":30,"x":404,"y":2.68},{"l":30,"x":580,"y":3.01},{"l":30,"x":714,"y":3.25},{"l":30,"x":883,"y":3.01},{"l":30,"x":1009,"y":3.25},{"l":30,"x":1185,"y":2.68},{"l":30,"x":1387,"y":2.11},{"l":30,"x":1538,"y":1.63},{"l":30,"x":1690,"y":1.46},{"l":30,"x":1841,"y":1.79},{"l":30,"x":2169,"y":1.79},
{"l":31,"x":0,"y":2.28},{"l":31,"x":202,"y":2.11},{"l":31,"x":404,"y":1.95},{"l":31,"x":580,"y":2.28},{"l":31,"x":782,"y":2.52},{"l":31,"x":958,"y":2.68},{"l":31,"x":1160,"y":2.11},{"l":31,"x":1337,"y":1.63},{"l":31,"x":1488,"y":1.14},{"l":31,"x":1639,"y":1.14},{"l":31,"x":1841,"y":1.46},{"l":31,"x":2169,"y":1.3},
{"l":32,"x":0,"y":1.54},{"l":32,"x":202,"y":1.63},{"l":32,"x":404,"y":1.46},{"l":32,"x":580,"y":1.79},{"l":32,"x":782,"y":1.95},{"l":32,"x":958,"y":1.95},{"l":32,"x":1135,"y":1.46},{"l":32,"x":1337,"y":0.98},{"l":32,"x":1463,"y":0.65},
{"l":33,"x":0,"y":1.14},{"l":33,"x":202,"y":0.98},{"l":33,"x":429,"y":1.06},{"l":33,"x":580,"y":1.3},{"l":33,"x":782,"y":1.38},{"l":33,"x":958,"y":1.38},{"l":33,"x":1135,"y":1.06},{"l":33,"x":1311,"y":0.49},
{"l":35,"x":2106,"y":0.41},{"l":35,"x":2144,"y":0.46},{"l":35,"x":2156,"y":0.2},{"l":35,"x":2118,"y":0.08},{"l":35,"x":2106,"y":0.33}],
"labs":[{"x":98,"y":11.33,"t":"354"},{"x":257,"y":11.52,"t":"356"},{"x":588,"y":11.7,"t":"358"},{"x":421,"y":11.16,"t":"350"},{"x":257,"y":10.76,"t":"344"},{"x":583,"y":10.71,"t":"342"},{"x":101,"y":10.43,"t":"340"},{"x":424,"y":10.47,"t":"338"},{"x":277,"y":10.06,"t":"332"},{"x":101,"y":9.77,"t":"330"},{"x":593,"y":9.88,"t":"328"},{"x":454,"y":9.72,"t":"326"},{"x":182,"y":9.34,"t":"324"},{"x":295,"y":9.25,"t":"320"},{"x":724,"y":11.33,"t":"352"},{"x":835,"y":11.08,"t":"348"},{"x":1039,"y":11.03,"t":"346"},{"x":978,"y":11.81,"t":"360"},{"x":749,"y":10.4,"t":"336"},{"x":835,"y":10.32,"t":"334"},{"x":726,"y":9.51,"t":"322"},{"x":567,"y":9.21,"t":"318"},{"x":126,"y":8.68,"t":"316"},{"x":416,"y":8.94,"t":"314"},{"x":257,"y":8.58,"t":"312"},{"x":96,"y":7.9,"t":"310"},{"x":1891,"y":7.12,"t":"308"},{"x":1803,"y":6.01,"t":"306"},{"x":1791,"y":5.28,"t":"304"},{"x":1808,"y":4.44,"t":"302"},{"x":1884,"y":3.69,"t":"300"},{"x":1581,"y":3.54,"t":"298"},{"x":1836,"y":2.63,"t":"296"},{"x":1753,"y":2.28,"t":"294"},{"x":1871,"y":1.95,"t":"292"},{"x":1468,"y":1.87,"t":"290"},{"x":1407,"y":1.82,"t":"288"},{"x":1218,"y":1.92,"t":"286"},{"x":926,"y":1.84,"t":"280"},{"x":625,"y":2.39,"t":"284"},{"x":782,"y":2.11,"t":"282"}],
"grid":[{"y":2,"x":0,"x2":2169},{"y":4,"x":0,"x2":2169},{"y":6,"x":0,"x2":2169},{"y":8,"x":0,"x2":2169},{"y":10,"x":0,"x2":2169},{"y":12,"x":0,"x2":2169}],
"frame":[{"x":0,"x2":2169,"y":0,"y2":13}],
"ends":[{"x":-33,"y":-0.41,"t":"C"},{"x":2169,"y":-0.41,"t":"D"}],
"barbs":[{"x":0,"y":12.72,"a":0,"s":2},{"x":0,"y":12.32,"a":0,"s":2},{"x":0,"y":11.91,"a":-5,"s":2},{"x":0,"y":11.54,"a":-10,"s":2},{"x":0,"y":11.15,"a":-25,"s":3},{"x":0,"y":10.76,"a":-30,"s":3},{"x":0,"y":10.37,"a":-35,"s":3},{"x":0,"y":9.98,"a":-40,"s":4},{"x":0,"y":9.59,"a":-40,"s":5},{"x":0,"y":9.2,"a":-40,"s":5},{"x":0,"y":8.81,"a":-40,"s":5},{"x":0,"y":8.4,"a":-40,"s":5},{"x":0,"y":8.03,"a":-40,"s":5},{"x":0,"y":7.64,"a":-40,"s":5},{"x":0,"y":7.22,"a":-35,"s":4},{"x":0,"y":6.83,"a":-35,"s":4},{"x":0,"y":6.4,"a":-30,"s":4},{"x":0,"y":6,"a":-30,"s":3},{"x":0,"y":5.61,"a":-25,"s":3},{"x":0,"y":5.2,"a":-15,"s":3},{"x":0,"y":4.79,"a":-3,"s":2},{"x":0,"y":4.39,"a":-3,"s":2},{"x":0,"y":3.98,"a":-3,"s":2},{"x":0,"y":3.58,"a":-10,"s":2},{"x":0,"y":3.2,"a":-10,"s":2},{"x":0,"y":2.8,"a":-15,"s":2},{"x":0,"y":2.41,"a":150,"s":2},{"x":0,"y":2.02,"a":135,"s":2},{"x":0,"y":1.59,"a":135,"s":3},{"x":0,"y":1.22,"a":130,"s":3},{"x":0,"y":0.81,"a":130,"s":2},{"x":0,"y":0.41,"a":130,"s":2},
{"x":110,"y":12.72,"a":0,"s":2},{"x":110,"y":12.32,"a":-5,"s":2},{"x":110,"y":11.91,"a":-10,"s":2},{"x":110,"y":11.54,"a":-15,"s":2},{"x":110,"y":11.15,"a":-20,"s":3},{"x":110,"y":10.76,"a":-25,"s":3},{"x":110,"y":10.37,"a":-35,"s":4},{"x":110,"y":9.98,"a":-40,"s":5},{"x":110,"y":9.59,"a":-40,"s":5},{"x":110,"y":9.2,"a":-40,"s":5},{"x":110,"y":8.81,"a":-35,"s":5},{"x":110,"y":8.4,"a":-35,"s":5},{"x":110,"y":8.03,"a":-35,"s":5},{"x":110,"y":7.64,"a":-35,"s":4},{"x":110,"y":7.22,"a":-30,"s":4},{"x":110,"y":6.83,"a":-25,"s":3},{"x":110,"y":6.4,"a":-25,"s":3},{"x":110,"y":6,"a":-20,"s":3},{"x":110,"y":5.61,"a":-15,"s":2},{"x":110,"y":5.2,"a":-10,"s":2},{"x":110,"y":4.79,"a":-8,"s":2},{"x":110,"y":4.39,"a":-8,"s":2},{"x":110,"y":3.98,"a":-5,"s":2},{"x":110,"y":3.58,"a":-8,"s":2},{"x":110,"y":3.2,"a":-8,"s":2},{"x":110,"y":2.8,"a":-10,"s":2},{"x":110,"y":2.41,"a":150,"s":2},{"x":110,"y":2.02,"a":135,"s":2},{"x":110,"y":1.59,"a":125,"s":2},{"x":110,"y":1.22,"a":120,"s":3},{"x":110,"y":0.81,"a":115,"s":3},{"x":110,"y":0.41,"a":115,"s":2},
{"x":220,"y":12.72,"a":-5,"s":2},{"x":220,"y":12.32,"a":-5,"s":2},{"x":220,"y":11.91,"a":-10,"s":2},{"x":220,"y":11.54,"a":-15,"s":2},{"x":220,"y":11.15,"a":-15,"s":3},{"x":220,"y":10.76,"a":-25,"s":3},{"x":220,"y":10.37,"a":-35,"s":4},{"x":220,"y":9.98,"a":-40,"s":5},{"x":220,"y":9.59,"a":-40,"s":5},{"x":220,"y":9.2,"a":-40,"s":5},{"x":220,"y":8.81,"a":-35,"s":5},{"x":220,"y":8.4,"a":-35,"s":4},{"x":220,"y":8.03,"a":-30,"s":4},{"x":220,"y":7.64,"a":-30,"s":4},{"x":220,"y":7.22,"a":-25,"s":3},{"x":220,"y":6.83,"a":-20,"s":3},{"x":220,"y":6.4,"a":-15,"s":3},{"x":220,"y":6,"a":-10,"s":2},{"x":220,"y":5.61,"a":-5,"s":2},{"x":220,"y":5.2,"a":-5,"s":2},{"x":220,"y":4.79,"a":-8,"s":2},{"x":220,"y":4.39,"a":-8,"s":2},{"x":220,"y":3.98,"a":-10,"s":2},{"x":220,"y":3.58,"a":-12,"s":2},{"x":220,"y":3.2,"a":-15,"s":2},{"x":220,"y":2.8,"a":150,"s":1},{"x":220,"y":2.41,"a":130,"s":1},{"x":220,"y":2.02,"a":130,"s":1},{"x":220,"y":1.59,"a":125,"s":2},{"x":220,"y":1.22,"a":115,"s":2},{"x":220,"y":0.81,"a":108,"s":2},{"x":220,"y":0.41,"a":110,"s":2},
{"x":329,"y":12.72,"a":-5,"s":2},{"x":329,"y":12.32,"a":-10,"s":2},{"x":329,"y":11.91,"a":-10,"s":2},{"x":329,"y":11.54,"a":-15,"s":2},{"x":329,"y":11.15,"a":-15,"s":3},{"x":329,"y":10.76,"a":-25,"s":3},{"x":329,"y":10.37,"a":-35,"s":3},{"x":329,"y":9.98,"a":-35,"s":4},{"x":329,"y":9.59,"a":-35,"s":5},{"x":329,"y":9.2,"a":-35,"s":5},{"x":329,"y":8.81,"a":-35,"s":5},{"x":329,"y":8.4,"a":-30,"s":5},{"x":329,"y":8.03,"a":-30,"s":4},{"x":329,"y":7.64,"a":-25,"s":4},{"x":329,"y":7.22,"a":-20,"s":3},{"x":329,"y":6.83,"a":-15,"s":3},{"x":329,"y":6.4,"a":-10,"s":3},{"x":329,"y":6,"a":-5,"s":2},{"x":329,"y":5.61,"a":-5,"s":2},{"x":329,"y":5.2,"a":0,"s":2},{"x":329,"y":4.79,"a":170,"s":1},{"x":329,"y":4.39,"a":155,"s":1},{"x":329,"y":3.98,"a":150,"s":1},{"x":329,"y":3.58,"a":140,"s":1},{"x":329,"y":3.2,"a":140,"s":1},{"x":329,"y":2.8,"a":130,"s":1},{"x":329,"y":2.41,"a":125,"s":1},{"x":329,"y":2.02,"a":115,"s":1},{"x":329,"y":1.59,"a":108,"s":2},{"x":329,"y":1.22,"a":97,"s":2},{"x":329,"y":0.81,"a":95,"s":2},{"x":329,"y":0.41,"a":88,"s":2},
{"x":439,"y":12.72,"a":-8,"s":2},{"x":439,"y":12.32,"a":-10,"s":2},{"x":439,"y":11.91,"a":-10,"s":2},{"x":439,"y":11.54,"a":-10,"s":2},{"x":439,"y":11.15,"a":-12,"s":2},{"x":439,"y":10.76,"a":-20,"s":3},{"x":439,"y":10.37,"a":-30,"s":3},{"x":439,"y":9.98,"a":-30,"s":3},{"x":439,"y":9.59,"a":-30,"s":3},{"x":439,"y":9.2,"a":-35,"s":4},{"x":439,"y":8.81,"a":-35,"s":4},{"x":439,"y":8.4,"a":-35,"s":4},{"x":439,"y":8.03,"a":-35,"s":4},{"x":439,"y":7.64,"a":-30,"s":3},{"x":439,"y":7.22,"a":-20,"s":3},{"x":439,"y":6.83,"a":-15,"s":3},{"x":439,"y":6.4,"a":-10,"s":2},{"x":439,"y":6,"a":-5,"s":2},{"x":439,"y":5.61,"a":0,"s":2},{"x":439,"y":5.2,"a":5,"s":2},{"x":439,"y":4.79,"a":90,"s":1},{"x":439,"y":4.39,"a":90,"s":1},{"x":439,"y":3.98,"a":90,"s":1},{"x":439,"y":3.58,"a":90,"s":1},{"x":439,"y":3.2,"a":90,"s":1},{"x":439,"y":2.8,"a":90,"s":1},{"x":439,"y":2.41,"a":85,"s":1},{"x":439,"y":2.02,"a":82,"s":1},{"x":439,"y":1.59,"a":82,"s":2},{"x":439,"y":1.22,"a":85,"s":2},{"x":439,"y":0.81,"a":75,"s":1},{"x":439,"y":0.41,"a":60,"s":1},
{"x":549,"y":12.72,"a":-10,"s":2},{"x":549,"y":12.32,"a":-12,"s":2},{"x":549,"y":11.91,"a":-12,"s":2},{"x":549,"y":11.54,"a":-15,"s":2},{"x":549,"y":11.15,"a":-12,"s":2},{"x":549,"y":10.76,"a":-15,"s":2},{"x":549,"y":10.37,"a":-25,"s":2},{"x":549,"y":9.98,"a":-30,"s":2},{"x":549,"y":9.59,"a":-40,"s":1},{"x":549,"y":9.2,"a":-45,"s":1},{"x":549,"y":8.81,"a":120,"s":8},{"x":549,"y":8.4,"a":120,"s":8},{"x":549,"y":8.03,"a":-20,"s":1},{"x":549,"y":7.64,"a":-10,"s":1},{"x":549,"y":7.22,"a":0,"s":1},{"x":549,"y":6.83,"a":5,"s":1},{"x":549,"y":6.4,"a":10,"s":1},{"x":549,"y":6,"a":10,"s":1},{"x":549,"y":5.61,"a":15,"s":1},{"x":549,"y":5.2,"a":20,"s":1},{"x":549,"y":4.79,"a":90,"s":1},{"x":549,"y":4.39,"a":90,"s":1},{"x":549,"y":3.98,"a":90,"s":1},{"x":549,"y":3.58,"a":90,"s":1},{"x":549,"y":3.2,"a":90,"s":1},{"x":549,"y":2.8,"a":78,"s":1},{"x":549,"y":2.41,"a":75,"s":1},{"x":549,"y":2.02,"a":72,"s":1},{"x":549,"y":1.59,"a":80,"s":2},{"x":549,"y":1.22,"a":80,"s":2},{"x":549,"y":0.81,"a":55,"s":1},{"x":549,"y":0.41,"a":45,"s":1},
{"x":658,"y":12.72,"a":-15,"s":2},{"x":658,"y":12.32,"a":-15,"s":2},{"x":658,"y":11.91,"a":-15,"s":2},{"x":658,"y":11.54,"a":-15,"s":2},{"x":658,"y":11.15,"a":-15,"s":2},{"x":658,"y":10.76,"a":-20,"s":2},{"x":658,"y":10.37,"a":-25,"s":1},{"x":658,"y":9.98,"a":-30,"s":1},{"x":658,"y":9.59,"a":245,"s":8},{"x":658,"y":9.2,"a":-60,"s":1},{"x":658,"y":8.81,"a":-100,"s":1},{"x":658,"y":8.4,"a":200,"s":1},{"x":658,"y":8.03,"a":190,"s":1},{"x":658,"y":7.64,"a":180,"s":2},{"x":658,"y":7.22,"a":180,"s":2},{"x":658,"y":6.83,"a":180,"s":2},{"x":658,"y":6.4,"a":178,"s":2},{"x":658,"y":6,"a":178,"s":2},{"x":658,"y":5.61,"a":178,"s":2},{"x":658,"y":5.2,"a":178,"s":1},{"x":658,"y":4.79,"a":175,"s":1},{"x":658,"y":4.39,"a":175,"s":1},{"x":658,"y":3.98,"a":155,"s":1},{"x":658,"y":3.58,"a":125,"s":1},{"x":658,"y":3.2,"a":100,"s":1},{"x":658,"y":2.8,"a":88,"s":1},{"x":658,"y":2.41,"a":85,"s":1},{"x":658,"y":2.02,"a":80,"s":1},{"x":658,"y":1.59,"a":65,"s":1},{"x":658,"y":1.22,"a":60,"s":1},{"x":658,"y":0.81,"a":65,"s":1},
{"x":768,"y":12.72,"a":-20,"s":2},{"x":768,"y":12.32,"a":-20,"s":2},{"x":768,"y":11.91,"a":-25,"s":2},{"x":768,"y":11.54,"a":-25,"s":2},{"x":768,"y":11.15,"a":-30,"s":1},{"x":768,"y":10.76,"a":-30,"s":1},{"x":768,"y":10.37,"a":-30,"s":1},{"x":768,"y":9.98,"a":-40,"s":1},{"x":768,"y":9.59,"a":250,"s":1},{"x":768,"y":9.2,"a":230,"s":1},{"x":768,"y":8.81,"a":210,"s":1},{"x":768,"y":8.4,"a":195,"s":2},{"x":768,"y":8.03,"a":185,"s":2},{"x":768,"y":7.64,"a":180,"s":2},{"x":768,"y":7.22,"a":178,"s":2},{"x":768,"y":6.83,"a":178,"s":2},{"x":768,"y":6.4,"a":178,"s":2},{"x":768,"y":6,"a":165,"s":2},{"x":768,"y":5.61,"a":150,"s":2},{"x":768,"y":5.2,"a":135,"s":1},{"x":768,"y":4.79,"a":140,"s":1},{"x":768,"y":4.39,"a":150,"s":1},{"x":768,"y":3.98,"a":150,"s":1},{"x":768,"y":3.58,"a":125,"s":1},{"x":768,"y":3.2,"a":100,"s":1},{"x":768,"y":2.8,"a":88,"s":1},{"x":768,"y":2.41,"a":85,"s":1},{"x":768,"y":2.02,"a":55,"s":1},{"x":768,"y":1.59,"a":40,"s":1},{"x":768,"y":1.22,"a":0,"s":1},{"x":768,"y":0.81,"a":30,"s":1},
{"x":878,"y":12.72,"a":-25,"s":2},{"x":878,"y":12.32,"a":-30,"s":2},{"x":878,"y":11.91,"a":-30,"s":2},{"x":878,"y":11.54,"a":-35,"s":1},{"x":878,"y":11.15,"a":-40,"s":1},{"x":878,"y":10.76,"a":250,"s":8},{"x":878,"y":10.37,"a":180,"s":8},{"x":878,"y":9.98,"a":185,"s":2},{"x":878,"y":9.59,"a":180,"s":3},{"x":878,"y":9.2,"a":180,"s":3},{"x":878,"y":8.81,"a":178,"s":3},{"x":878,"y":8.4,"a":178,"s":3},{"x":878,"y":8.03,"a":178,"s":3},{"x":878,"y":7.64,"a":178,"s":3},{"x":878,"y":7.22,"a":178,"s":3},{"x":878,"y":6.83,"a":178,"s":3},{"x":878,"y":6.4,"a":178,"s":3},{"x":878,"y":6,"a":165,"s":3},{"x":878,"y":5.61,"a":150,"s":2},{"x":878,"y":5.2,"a":125,"s":2},{"x":878,"y":4.79,"a":120,"s":2},{"x":878,"y":4.39,"a":100,"s":1},{"x":878,"y":3.98,"a":85,"s":1},{"x":878,"y":3.58,"a":85,"s":1},{"x":878,"y":3.2,"a":85,"s":1},{"x":878,"y":2.8,"a":85,"s":1},{"x":878,"y":2.41,"a":65,"s":1},{"x":878,"y":2.02,"a":20,"s":1},{"x":878,"y":1.59,"a":-35,"s":1},{"x":878,"y":1.22,"a":-55,"s":1},{"x":878,"y":0.81,"a":-50,"s":1},
{"x":987,"y":12.72,"a":-30,"s":2},{"x":987,"y":12.32,"a":-40,"s":1},{"x":987,"y":11.91,"a":-50,"s":1},{"x":987,"y":11.54,"a":-60,"s":1},{"x":987,"y":11.15,"a":-70,"s":1},{"x":987,"y":10.76,"a":-90,"s":1},{"x":987,"y":10.37,"a":-120,"s":1},{"x":987,"y":9.98,"a":190,"s":2},{"x":987,"y":9.59,"a":185,"s":2},{"x":987,"y":9.2,"a":180,"s":3},{"x":987,"y":8.81,"a":180,"s":3},{"x":987,"y":8.4,"a":180,"s":3},{"x":987,"y":8.03,"a":178,"s":4},{"x":987,"y":7.64,"a":178,"s":4},{"x":987,"y":7.22,"a":178,"s":4},{"x":987,"y":6.83,"a":178,"s":4},{"x":987,"y":6.4,"a":178,"s":4},{"x":987,"y":6,"a":170,"s":4},{"x":987,"y":5.61,"a":150,"s":3},{"x":987,"y":5.2,"a":140,"s":3},{"x":987,"y":4.79,"a":130,"s":3},{"x":987,"y":4.39,"a":130,"s":2},{"x":987,"y":3.98,"a":115,"s":2},{"x":987,"y":3.58,"a":110,"s":2},{"x":987,"y":3.2,"a":105,"s":2},{"x":987,"y":2.8,"a":90,"s":1},{"x":987,"y":2.41,"a":70,"s":2},{"x":987,"y":2.02,"a":45,"s":3},{"x":987,"y":1.59,"a":5,"s":3},{"x":987,"y":1.22,"a":-10,"s":3},
{"x":1097,"y":12.72,"a":-70,"s":1},{"x":1097,"y":12.32,"a":-80,"s":1},{"x":1097,"y":11.91,"a":260,"s":1},{"x":1097,"y":11.54,"a":245,"s":1},{"x":1097,"y":11.15,"a":230,"s":1},{"x":1097,"y":10.76,"a":220,"s":1},{"x":1097,"y":10.37,"a":210,"s":1},{"x":1097,"y":9.98,"a":200,"s":2},{"x":1097,"y":9.59,"a":190,"s":2},{"x":1097,"y":9.2,"a":185,"s":3},{"x":1097,"y":8.81,"a":180,"s":3},{"x":1097,"y":8.4,"a":180,"s":3},{"x":1097,"y":8.03,"a":178,"s":7},{"x":1097,"y":7.64,"a":178,"s":7},{"x":1097,"y":7.22,"a":175,"s":4},{"x":1097,"y":6.83,"a":170,"s":4},{"x":1097,"y":6.4,"a":165,"s":4},{"x":1097,"y":6,"a":160,"s":3},{"x":1097,"y":5.61,"a":150,"s":3},{"x":1097,"y":5.2,"a":140,"s":3},{"x":1097,"y":4.79,"a":135,"s":2},{"x":1097,"y":4.39,"a":130,"s":2},{"x":1097,"y":3.98,"a":120,"s":2},{"x":1097,"y":3.58,"a":115,"s":2},{"x":1097,"y":3.2,"a":110,"s":2},{"x":1097,"y":2.8,"a":98,"s":2},{"x":1097,"y":2.41,"a":85,"s":2},{"x":1097,"y":2.02,"a":70,"s":2},{"x":1097,"y":1.59,"a":55,"s":3},{"x":1097,"y":1.22,"a":35,"s":3},{"x":1097,"y":0.81,"a":5,"s":5},{"x":1097,"y":0.41,"a":0,"s":4},
{"x":1207,"y":12.72,"a":255,"s":1},{"x":1207,"y":12.32,"a":245,"s":1},{"x":1207,"y":11.91,"a":240,"s":1},{"x":1207,"y":11.54,"a":235,"s":2},{"x":1207,"y":11.15,"a":225,"s":2},{"x":1207,"y":10.76,"a":215,"s":2},{"x":1207,"y":10.37,"a":205,"s":2},{"x":1207,"y":9.98,"a":195,"s":2},{"x":1207,"y":9.59,"a":190,"s":3},{"x":1207,"y":9.2,"a":185,"s":3},{"x":1207,"y":8.81,"a":180,"s":3},{"x":1207,"y":8.4,"a":180,"s":7},{"x":1207,"y":8.03,"a":180,"s":7},{"x":1207,"y":7.64,"a":180,"s":7},{"x":1207,"y":7.22,"a":178,"s":4},{"x":1207,"y":6.83,"a":178,"s":4},{"x":1207,"y":6.4,"a":170,"s":4},{"x":1207,"y":6,"a":160,"s":3},{"x":1207,"y":5.61,"a":150,"s":3},{"x":1207,"y":5.2,"a":130,"s":3},{"x":1207,"y":4.79,"a":120,"s":3},{"x":1207,"y":4.39,"a":110,"s":3},{"x":1207,"y":3.98,"a":105,"s":3},{"x":1207,"y":3.58,"a":105,"s":3},{"x":1207,"y":3.2,"a":105,"s":3},{"x":1207,"y":2.8,"a":98,"s":3},{"x":1207,"y":2.41,"a":95,"s":3},{"x":1207,"y":2.02,"a":85,"s":3},{"x":1207,"y":1.59,"a":75,"s":3},{"x":1207,"y":1.22,"a":60,"s":3},{"x":1207,"y":0.81,"a":30,"s":3},{"x":1207,"y":0.41,"a":10,"s":3},
{"x":1316,"y":12.72,"a":240,"s":1},{"x":1316,"y":12.32,"a":235,"s":1},{"x":1316,"y":11.91,"a":230,"s":2},{"x":1316,"y":11.54,"a":225,"s":2},{"x":1316,"y":11.15,"a":220,"s":2},{"x":1316,"y":10.76,"a":210,"s":3},{"x":1316,"y":10.37,"a":200,"s":3},{"x":1316,"y":9.98,"a":195,"s":3},{"x":1316,"y":9.59,"a":190,"s":3},{"x":1316,"y":9.2,"a":185,"s":4},{"x":1316,"y":8.81,"a":182,"s":4},{"x":1316,"y":8.4,"a":180,"s":7},{"x":1316,"y":8.03,"a":180,"s":7},{"x":1316,"y":7.64,"a":180,"s":7},{"x":1316,"y":7.22,"a":180,"s":7},{"x":1316,"y":6.83,"a":180,"s":5},{"x":1316,"y":6.4,"a":180,"s":4},{"x":1316,"y":6,"a":170,"s":4},{"x":1316,"y":5.61,"a":160,"s":3},{"x":1316,"y":5.2,"a":160,"s":3},{"x":1316,"y":4.79,"a":150,"s":2},{"x":1316,"y":4.39,"a":140,"s":2},{"x":1316,"y":3.98,"a":130,"s":2},{"x":1316,"y":3.58,"a":125,"s":2},{"x":1316,"y":3.2,"a":120,"s":3},{"x":1316,"y":2.8,"a":115,"s":3},{"x":1316,"y":2.41,"a":110,"s":3},{"x":1316,"y":2.02,"a":105,"s":4},{"x":1316,"y":1.59,"a":95,"s":4},{"x":1316,"y":1.22,"a":88,"s":4},{"x":1316,"y":0.81,"a":80,"s":3},{"x":1316,"y":0.41,"a":45,"s":3},
{"x":1426,"y":12.72,"a":238,"s":1},{"x":1426,"y":12.32,"a":232,"s":1},{"x":1426,"y":11.91,"a":225,"s":1},{"x":1426,"y":11.54,"a":220,"s":2},{"x":1426,"y":11.15,"a":212,"s":3},{"x":1426,"y":10.76,"a":205,"s":3},{"x":1426,"y":10.37,"a":200,"s":3},{"x":1426,"y":9.98,"a":195,"s":3},{"x":1426,"y":9.59,"a":190,"s":3},{"x":1426,"y":9.2,"a":185,"s":3},{"x":1426,"y":8.81,"a":185,"s":3},{"x":1426,"y":8.4,"a":182,"s":7},{"x":1426,"y":8.03,"a":180,"s":7},{"x":1426,"y":7.64,"a":180,"s":7},{"x":1426,"y":7.22,"a":180,"s":5},{"x":1426,"y":6.83,"a":180,"s":5},{"x":1426,"y":6.4,"a":178,"s":4},{"x":1426,"y":6,"a":175,"s":4},{"x":1426,"y":5.61,"a":170,"s":3},{"x":1426,"y":5.2,"a":165,"s":3},{"x":1426,"y":4.79,"a":160,"s":3},{"x":1426,"y":4.39,"a":155,"s":3},{"x":1426,"y":3.98,"a":155,"s":2},{"x":1426,"y":3.58,"a":155,"s":2},{"x":1426,"y":3.2,"a":155,"s":2},{"x":1426,"y":2.8,"a":160,"s":2},{"x":1426,"y":2.41,"a":155,"s":2},{"x":1426,"y":2.02,"a":155,"s":3},{"x":1426,"y":1.59,"a":150,"s":3},{"x":1426,"y":1.22,"a":140,"s":3},{"x":1426,"y":0.81,"a":105,"s":3},{"x":1426,"y":0.41,"a":80,"s":3},
{"x":1536,"y":12.72,"a":240,"s":1},{"x":1536,"y":12.32,"a":235,"s":1},{"x":1536,"y":11.91,"a":215,"s":2},{"x":1536,"y":11.54,"a":205,"s":2},{"x":1536,"y":11.15,"a":200,"s":3},{"x":1536,"y":10.76,"a":195,"s":3},{"x":1536,"y":10.37,"a":190,"s":2},{"x":1536,"y":9.98,"a":190,"s":1},{"x":1536,"y":9.59,"a":188,"s":1},{"x":1536,"y":9.2,"a":185,"s":7},{"x":1536,"y":8.81,"a":183,"s":7},{"x":1536,"y":8.4,"a":182,"s":7},{"x":1536,"y":8.03,"a":180,"s":7},{"x":1536,"y":7.64,"a":180,"s":7},{"x":1536,"y":7.22,"a":180,"s":5},{"x":1536,"y":6.83,"a":180,"s":4},{"x":1536,"y":6.4,"a":178,"s":3},{"x":1536,"y":6,"a":178,"s":3},{"x":1536,"y":5.61,"a":178,"s":3},{"x":1536,"y":5.2,"a":178,"s":3},{"x":1536,"y":4.79,"a":178,"s":3},{"x":1536,"y":4.39,"a":178,"s":3},{"x":1536,"y":3.98,"a":178,"s":3},{"x":1536,"y":3.58,"a":178,"s":3},{"x":1536,"y":3.2,"a":178,"s":3},{"x":1536,"y":2.8,"a":178,"s":3},{"x":1536,"y":2.41,"a":178,"s":3},{"x":1536,"y":2.02,"a":175,"s":3},{"x":1536,"y":1.59,"a":170,"s":3},{"x":1536,"y":1.22,"a":150,"s":3},{"x":1536,"y":0.81,"a":140,"s":3},
{"x":1645,"y":12.72,"a":245,"s":2},{"x":1645,"y":12.32,"a":225,"s":2},{"x":1645,"y":11.91,"a":215,"s":3},{"x":1645,"y":11.54,"a":205,"s":3},{"x":1645,"y":11.15,"a":200,"s":3},{"x":1645,"y":10.76,"a":195,"s":3},{"x":1645,"y":10.37,"a":195,"s":1},{"x":1645,"y":9.98,"a":190,"s":1},{"x":1645,"y":9.59,"a":190,"s":1},{"x":1645,"y":9.2,"a":188,"s":7},{"x":1645,"y":8.81,"a":185,"s":7},{"x":1645,"y":8.4,"a":185,"s":7},{"x":1645,"y":8.03,"a":182,"s":7},{"x":1645,"y":7.64,"a":180,"s":7},{"x":1645,"y":7.22,"a":180,"s":7},{"x":1645,"y":6.83,"a":178,"s":4},{"x":1645,"y":6.4,"a":178,"s":4},{"x":1645,"y":6,"a":178,"s":4},{"x":1645,"y":5.61,"a":178,"s":4},{"x":1645,"y":5.2,"a":178,"s":4},{"x":1645,"y":4.79,"a":178,"s":4},{"x":1645,"y":4.39,"a":178,"s":3},{"x":1645,"y":3.98,"a":178,"s":3},{"x":1645,"y":3.58,"a":178,"s":3},{"x":1645,"y":3.2,"a":178,"s":3},{"x":1645,"y":2.8,"a":178,"s":3},{"x":1645,"y":2.41,"a":178,"s":3},{"x":1645,"y":2.02,"a":178,"s":3},{"x":1645,"y":1.59,"a":175,"s":3},{"x":1645,"y":1.22,"a":160,"s":3},
{"x":1755,"y":12.72,"a":240,"s":3},{"x":1755,"y":12.32,"a":235,"s":3},{"x":1755,"y":11.91,"a":225,"s":3},{"x":1755,"y":11.54,"a":210,"s":4},{"x":1755,"y":11.15,"a":210,"s":4},{"x":1755,"y":10.76,"a":210,"s":4},{"x":1755,"y":10.37,"a":210,"s":1},{"x":1755,"y":9.98,"a":210,"s":1},{"x":1755,"y":9.59,"a":205,"s":1},{"x":1755,"y":9.2,"a":205,"s":4},{"x":1755,"y":8.81,"a":205,"s":4},{"x":1755,"y":8.4,"a":200,"s":4},{"x":1755,"y":8.03,"a":200,"s":4},{"x":1755,"y":7.64,"a":200,"s":4},{"x":1755,"y":7.22,"a":200,"s":4},{"x":1755,"y":6.83,"a":198,"s":4},{"x":1755,"y":6.4,"a":198,"s":4},{"x":1755,"y":6,"a":196,"s":4},{"x":1755,"y":5.61,"a":196,"s":4},{"x":1755,"y":5.2,"a":195,"s":4},{"x":1755,"y":4.79,"a":195,"s":4},{"x":1755,"y":4.39,"a":185,"s":3},{"x":1755,"y":3.98,"a":185,"s":3},{"x":1755,"y":3.58,"a":185,"s":3},{"x":1755,"y":3.2,"a":185,"s":3},{"x":1755,"y":2.8,"a":185,"s":3},{"x":1755,"y":2.41,"a":180,"s":3},{"x":1755,"y":2.02,"a":178,"s":3},{"x":1755,"y":1.59,"a":170,"s":2},{"x":1755,"y":1.22,"a":135,"s":1},
{"x":1865,"y":12.72,"a":235,"s":5},{"x":1865,"y":12.32,"a":235,"s":5},{"x":1865,"y":11.91,"a":235,"s":5},{"x":1865,"y":11.54,"a":235,"s":5},{"x":1865,"y":11.15,"a":230,"s":4},{"x":1865,"y":10.76,"a":225,"s":4},{"x":1865,"y":10.37,"a":215,"s":1},{"x":1865,"y":9.98,"a":210,"s":1},{"x":1865,"y":9.59,"a":205,"s":4},{"x":1865,"y":9.2,"a":205,"s":4},{"x":1865,"y":8.81,"a":200,"s":4},{"x":1865,"y":8.4,"a":200,"s":4},{"x":1865,"y":8.03,"a":200,"s":4},{"x":1865,"y":7.64,"a":200,"s":4},{"x":1865,"y":7.22,"a":200,"s":4},{"x":1865,"y":6.83,"a":200,"s":4},{"x":1865,"y":6.4,"a":200,"s":4},{"x":1865,"y":6,"a":200,"s":4},{"x":1865,"y":5.61,"a":200,"s":4},{"x":1865,"y":5.2,"a":200,"s":4},{"x":1865,"y":4.79,"a":200,"s":4},{"x":1865,"y":4.39,"a":185,"s":3},{"x":1865,"y":3.98,"a":185,"s":3},{"x":1865,"y":3.58,"a":185,"s":3},{"x":1865,"y":3.2,"a":185,"s":3},{"x":1865,"y":2.8,"a":185,"s":3},{"x":1865,"y":2.41,"a":180,"s":3},{"x":1865,"y":2.02,"a":175,"s":3},{"x":1865,"y":1.59,"a":180,"s":3},
{"x":1974,"y":12.72,"a":235,"s":5},{"x":1974,"y":12.32,"a":235,"s":5},{"x":1974,"y":11.91,"a":235,"s":5},{"x":1974,"y":11.54,"a":235,"s":5},{"x":1974,"y":11.15,"a":232,"s":5},{"x":1974,"y":10.76,"a":225,"s":5},{"x":1974,"y":10.37,"a":220,"s":1},{"x":1974,"y":9.98,"a":215,"s":1},{"x":1974,"y":9.59,"a":220,"s":4},{"x":1974,"y":9.2,"a":205,"s":4},{"x":1974,"y":8.81,"a":205,"s":4},{"x":1974,"y":8.4,"a":205,"s":4},{"x":1974,"y":8.03,"a":205,"s":4},{"x":1974,"y":7.64,"a":205,"s":4},{"x":1974,"y":7.22,"a":205,"s":4},{"x":1974,"y":6.83,"a":205,"s":4},{"x":1974,"y":6.4,"a":205,"s":4},{"x":1974,"y":6,"a":205,"s":4},{"x":1974,"y":5.61,"a":205,"s":4},{"x":1974,"y":5.2,"a":205,"s":4},{"x":1974,"y":4.79,"a":205,"s":4},{"x":1974,"y":4.39,"a":195,"s":4},{"x":1974,"y":3.98,"a":195,"s":4},{"x":1974,"y":3.58,"a":195,"s":4},{"x":1974,"y":3.2,"a":195,"s":4},{"x":1974,"y":2.8,"a":195,"s":4},{"x":1974,"y":2.41,"a":195,"s":4},{"x":1974,"y":2.02,"a":195,"s":4},{"x":1974,"y":1.59,"a":195,"s":4},{"x":1974,"y":1.22,"a":195,"s":4},
{"x":2084,"y":12.72,"a":235,"s":6},{"x":2084,"y":12.32,"a":235,"s":5},{"x":2084,"y":11.91,"a":235,"s":5},{"x":2084,"y":11.54,"a":235,"s":1},{"x":2084,"y":11.15,"a":235,"s":1},{"x":2084,"y":10.76,"a":225,"s":1},{"x":2084,"y":10.37,"a":220,"s":1},{"x":2084,"y":9.98,"a":220,"s":1},{"x":2084,"y":9.59,"a":220,"s":1},{"x":2084,"y":9.2,"a":215,"s":5},{"x":2084,"y":8.81,"a":215,"s":5},{"x":2084,"y":8.4,"a":215,"s":5},{"x":2084,"y":8.03,"a":215,"s":5},{"x":2084,"y":7.64,"a":215,"s":5},{"x":2084,"y":7.22,"a":215,"s":5},{"x":2084,"y":6.83,"a":215,"s":5},{"x":2084,"y":6.4,"a":215,"s":5},{"x":2084,"y":6,"a":215,"s":5},{"x":2084,"y":5.61,"a":215,"s":5},{"x":2084,"y":5.2,"a":215,"s":5},{"x":2084,"y":4.79,"a":215,"s":5},{"x":2084,"y":4.39,"a":215,"s":4},{"x":2084,"y":3.98,"a":215,"s":4},{"x":2084,"y":3.58,"a":215,"s":4},{"x":2084,"y":3.2,"a":215,"s":4},{"x":2084,"y":2.8,"a":210,"s":4},{"x":2084,"y":2.41,"a":210,"s":4},{"x":2084,"y":2.02,"a":210,"s":4},{"x":2084,"y":1.59,"a":210,"s":4},{"x":2084,"y":1.22,"a":210,"s":4},{"x":2084,"y":0.81,"a":205,"s":3},{"x":2084,"y":0.41,"a":205,"s":3}],
"bar":[{"r0":0,"r1":1,"b":"g"},{"r0":1,"r1":2,"b":"g"},{"r0":2,"r1":3,"b":"g"},{"r0":3,"r1":4,"b":"g"},{"r0":4,"r1":5,"b":"g"},{"r0":5,"r1":6,"b":"g"},{"r0":6,"r1":7,"b":"g"},{"r0":7,"r1":8,"b":"g"},{"r0":8,"r1":9,"b":"pu"},{"r0":9,"r1":10,"b":"rd"},{"r0":10,"r1":11,"b":"or"},{"r0":11,"r1":12,"b":"yl"},{"r0":12,"r1":13,"b":"ol"},{"r0":13,"r1":14,"b":"dg"},{"r0":14,"r1":15,"b":"lg"},{"r0":15,"r1":16,"b":"bl"},{"r0":16.68,"r1":17.68,"b":"n1"},{"r0":17.68,"r1":18.68,"b":"n2"},{"r0":18.68,"r1":19.68,"b":"n3"},{"r0":19.68,"r1":20.68,"b":"n4"},{"r0":20.68,"r1":21.68,"b":"t"},{"r0":21.68,"r1":22.68,"b":"t"},{"r0":22.68,"r1":23.68,"b":"t"},{"r0":23.68,"r1":24.68,"b":"g"}],
"lv":[{"r":0,"l":"22"},{"r":1,"l":"20"},{"r":2,"l":"18"},{"r":3,"l":"16"},{"r":4,"l":"14"},{"r":5,"l":"12"},{"r":6,"l":"10"},{"r":7,"l":"8"},{"r":8,"l":"6"},{"r":9,"l":"4"},{"r":10,"l":"3.5"},{"r":11,"l":"3"},{"r":12,"l":"2.5"},{"r":13,"l":"2"},{"r":14,"l":"1.5"},{"r":15,"l":"1"},{"r":16,"l":"0.5"},{"r":16.68,"l":"-0.5"},{"r":17.68,"l":"-1"},{"r":18.68,"l":"-1.5"},{"r":19.68,"l":"-2"},{"r":20.68,"l":"-2.5"},{"r":21.68,"l":"-3"},{"r":22.68,"l":"-3.5"},{"r":23.68,"l":"-4"}],
"head":[{"n":0.62,"t":"ECMWF-HR1 Potenciális örvényesség (PVU) 2013. jan 18. péntek 06:00 (+30h)"},{"n":1.6,"t":"ECMWF-HR1 ThetaD (K) 2013. jan 18. péntek 06:00 (+30h)"},{"n":2.57,"t":"ECMWF-HR1 Szél (m/s) 2013. jan 18. péntek 06:00 (+30h)"}]
},
"layer":[{"layer":[
{"data":{"name":"pts"},"transform":[{"lookup":"p","from":{"data":{"name":"polys"},"key":"p","fields":["b"]}}],"mark":{"type":"line","order":null,"strokeWidth":0,"clip":false},"encoding":{"x":{"field":"x","type":"quantitative","scale":{"domain":[0,2169],"range":[70,930],"nice":false},"axis":{"offset":-100,"values":[0,200,400,600,800,1000,1200,1400,1600,1800,2000],"format":"d","grid":false,"title":"Távolság [km]","tickSize":10,"labelPadding":8,"titlePadding":10,"labelFontSize":12,"labelColor":"#666","titleColor":"#666","titleFontWeight":"normal","titleFontSize":12,"domain":false,"tickColor":"#666","tickWidth":1.5}},"y":{"field":"y","type":"quantitative","scale":{"domain":[0,13],"range":[900,100],"nice":false},"axis":{"offset":-70,"values":[0,2,4,6,8,10,12],"format":"d","grid":false,"title":"Magasság [km]","tickSize":10,"labelPadding":6,"titlePadding":10,"labelFontSize":12,"labelColor":"#666","titleColor":"#666","titleFontWeight":"normal","titleFontSize":12,"domain":false,"tickColor":"#666","tickWidth":1.5}},"detail":{"field":"p"},"fill":{"field":"b","type":"nominal","legend":null,"scale":{"domain":["bl","w","lg","dg","ol","yl","or","rd","pu","g","n1","n2","n3","n4","t"],"range":["#00aaff","#ffffff","#55ff80","#005500","#b2a800","#ffff80","#ff5500","#ff0000","#b0558a","#969496","#55558a","#ff00ff","#b0008a","#b00000","#f0ecf0"]}}}},
{"data":{"name":"cont"},"mark":{"type":"line","order":null,"stroke":"#3a3a3a","strokeWidth":0.8,"clip":false},"encoding":{"x":{"field":"x","type":"quantitative"},"y":{"field":"y","type":"quantitative"},"detail":{"field":"l"}}},
{"data":{"name":"grid"},"mark":{"type":"rule","stroke":"#333","strokeWidth":1,"strokeDash":[1,3]},"encoding":{"x":{"field":"x","type":"quantitative"},"x2":{"field":"x2"},"y":{"field":"y","type":"quantitative"}}},
{"data":{"name":"frame"},"mark":{"type":"rect","fill":null,"stroke":"#666","strokeWidth":2},"encoding":{"x":{"field":"x","type":"quantitative"},"x2":{"field":"x2"},"y":{"field":"y","type":"quantitative"},"y2":{"field":"y2"}}},
{"data":{"name":"ends"},"mark":{"type":"text","fontSize":12,"color":"#666"},"encoding":{"x":{"field":"x","type":"quantitative"},"y":{"field":"y","type":"quantitative"},"text":{"field":"t"}}},
{"data":{"name":"labs"},"mark":{"type":"text","fontSize":15,"color":"#6a6a6a","angle":350},"encoding":{"x":{"field":"x","type":"quantitative"},"y":{"field":"y","type":"quantitative"},"text":{"field":"t"}}},
{"data":{"name":"barbs"},"mark":{"type":"point","filled":false,"stroke":"black","strokeWidth":1.8,"size":3025,"opacity":1,"clip":false},"encoding":{"x":{"field":"x","type":"quantitative"},"y":{"field":"y","type":"quantitative"},"angle":{"field":"a","type":"quantitative","scale":{"domain":[-360,360],"range":[-360,360]}},"shape":{"field":"s","type":"nominal","legend":null,"scale":{"domain":[1,2,3,4,5,6,7,8],"range":["M0,0V-.9L.45,-.98","M0,0V-.9L.45,-.98M0,-.76L.45,-.84","M0,0V-.9L.45,-.98M0,-.76L.45,-.84M0,-.62L.45,-.7","M0,0V-.9L.45,-.98M0,-.76L.45,-.84M0,-.62L.45,-.7M0,-.48L.45,-.56","M0,0V-.9L.45,-.98M0,-.76L.45,-.84M0,-.62L.45,-.7M0,-.48L.45,-.56M0,-.34L.45,-.42","M0,0V-.9L.45,-.98M0,-.76L.45,-.84M0,-.62L.45,-.7M0,-.48L.45,-.56M0,-.34L.45,-.42M0,-.2L.45,-.28","M0,0V-.9L.45,-.9L0,-.75Z","M0,-.08V-.75M.08,0A.08,.08 0 1 1 -.08,0A.08,.08 0 1 1 .08,0"]}}}}
]},
{"layer":[
{"data":{"values":[{"x0":-0.3125,"x1":2.5,"y0":-0.78,"y1":24.8}]},"mark":{"type":"rect","fill":"white","stroke":"#555","strokeWidth":1.2},"encoding":{"x":{"field":"x0","type":"quantitative","axis":null,"scale":{"domain":[0,1],"range":[955,971],"nice":false,"zero":false}},"x2":{"field":"x1"},"y":{"field":"y0","type":"quantitative","axis":null,"scale":{"domain":[0,24.68],"range":[30.6,993],"nice":false,"zero":false}},"y2":{"field":"y1"}}},
{"data":{"name":"bar"},"mark":{"type":"rect","stroke":"black","strokeWidth":1},"encoding":{"x":{"datum":0,"type":"quantitative"},"x2":{"datum":1},"y":{"field":"r0","type":"quantitative"},"y2":{"field":"r1"},"fill":{"field":"b","type":"nominal","legend":null,"scale":{"domain":["bl","lg","dg","ol","yl","or","rd","pu","g","n1","n2","n3","n4","t"],"range":["#00aaff","#55ff80","#005500","#b2a800","#ffff80","#ff5500","#ff0000","#b0558a","#969496","#55558a","#ff00ff","#b0008a","#b00000","#f2eff2"]}}}},
{"data":{"name":"lv"},"mark":{"type":"rule","stroke":"black","strokeWidth":1},"encoding":{"x":{"datum":0,"type":"quantitative"},"x2":{"datum":1.3},"y":{"field":"r","type":"quantitative"}}},
{"data":{"name":"lv"},"mark":{"type":"text","fontSize":9,"align":"left","color":"#222"},"encoding":{"x":{"datum":1.4,"type":"quantitative"},"y":{"field":"r","type":"quantitative"},"text":{"field":"l"}}},
{"data":{"values":[{"t":"PVU","r":-0.42}]},"mark":{"type":"text","fontSize":8,"color":"#222"},"encoding":{"x":{"datum":1.2,"type":"quantitative"},"y":{"field":"r","type":"quantitative"},"text":{"field":"t"}}}
]},
{"layer":[
{"data":{"values":[{"x0":0,"x1":571,"y0":0,"y1":3}]},"mark":{"type":"rect","fill":"white","stroke":"#666","strokeWidth":1},"encoding":{"x":{"field":"x0","type":"quantitative","axis":null,"scale":{"domain":[0,571],"range":[2,573],"nice":false}},"x2":{"field":"x1"},"y":{"field":"y0","type":"quantitative","axis":null,"scale":{"domain":[0,3],"range":[2,79],"nice":false}},"y2":{"field":"y1"}}},
{"data":{"name":"head"},"mark":{"type":"text","fontSize":15.7,"align":"left","color":"#333"},"encoding":{"x":{"datum":3,"type":"quantitative"},"y":{"field":"n","type":"quantitative"},"text":{"field":"t"}}}
]}
],"resolve":{"scale":{"x":"independent","y":"independent","fill":"independent"},"axis":{"x":"independent","y":"independent"}}}
